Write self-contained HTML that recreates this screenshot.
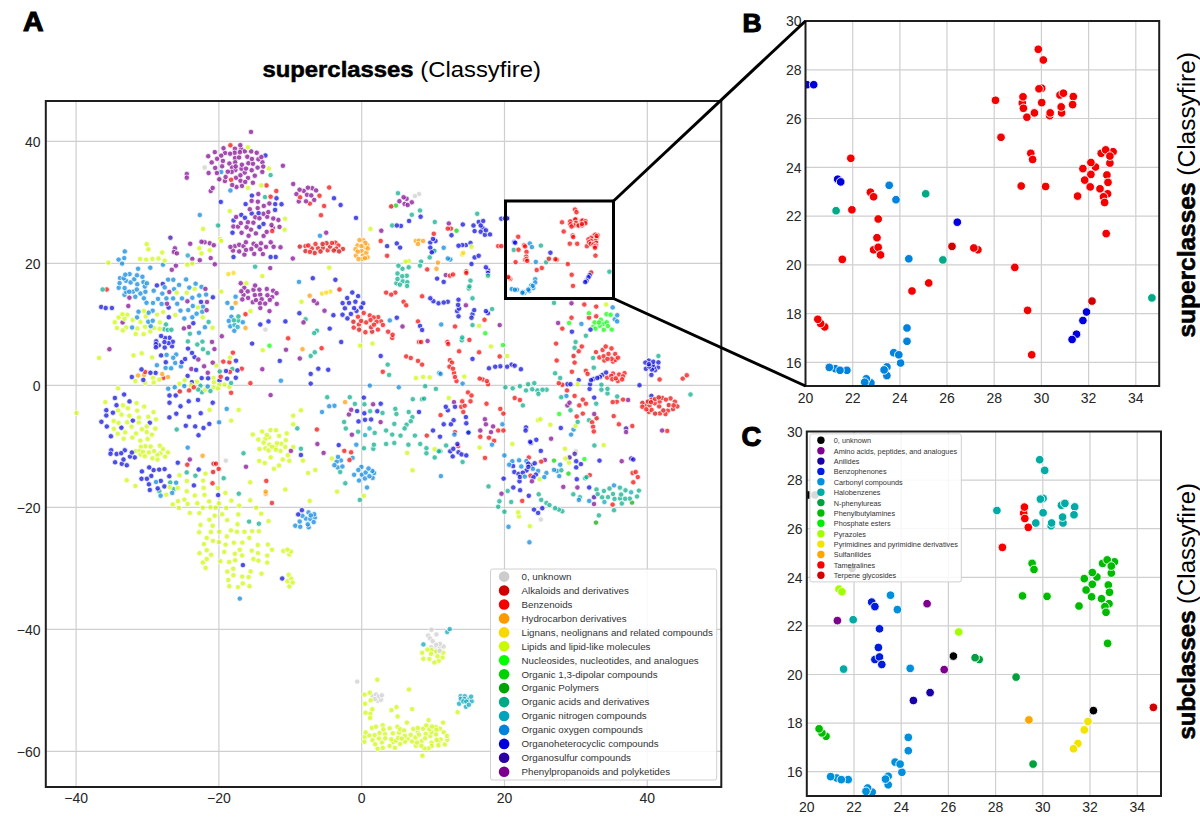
<!DOCTYPE html>
<html><head><meta charset="utf-8"><style>
html,body{margin:0;padding:0;background:#fff;}
body{width:1200px;height:831px;overflow:hidden;}
svg{display:block;font-family:"Liberation Sans",sans-serif;}
</style></head><body>
<svg width="1200" height="831" viewBox="0 0 1200 831">
<rect width="1200" height="831" fill="#fff"/>
<rect x="45.8" y="101" width="675.5" height="686" fill="#fff"/>
<line x1="76.1" y1="101" x2="76.1" y2="787" stroke="#cfcfcf" stroke-width="1.2"/>
<line x1="218.9" y1="101" x2="218.9" y2="787" stroke="#cfcfcf" stroke-width="1.2"/>
<line x1="361.7" y1="101" x2="361.7" y2="787" stroke="#cfcfcf" stroke-width="1.2"/>
<line x1="504.5" y1="101" x2="504.5" y2="787" stroke="#cfcfcf" stroke-width="1.2"/>
<line x1="647.3" y1="101" x2="647.3" y2="787" stroke="#cfcfcf" stroke-width="1.2"/>
<line x1="45.8" y1="141.4" x2="721.3" y2="141.4" stroke="#cfcfcf" stroke-width="1.2"/>
<line x1="45.8" y1="263.4" x2="721.3" y2="263.4" stroke="#cfcfcf" stroke-width="1.2"/>
<line x1="45.8" y1="385.4" x2="721.3" y2="385.4" stroke="#cfcfcf" stroke-width="1.2"/>
<line x1="45.8" y1="507.4" x2="721.3" y2="507.4" stroke="#cfcfcf" stroke-width="1.2"/>
<line x1="45.8" y1="629.4" x2="721.3" y2="629.4" stroke="#cfcfcf" stroke-width="1.2"/>
<line x1="45.8" y1="751.3" x2="721.3" y2="751.3" stroke="#cfcfcf" stroke-width="1.2"/>
<line x1="852.7" y1="21" x2="852.7" y2="386" stroke="#cfcfcf" stroke-width="1.2"/>
<line x1="899.9" y1="21" x2="899.9" y2="386" stroke="#cfcfcf" stroke-width="1.2"/>
<line x1="947" y1="21" x2="947" y2="386" stroke="#cfcfcf" stroke-width="1.2"/>
<line x1="994.2" y1="21" x2="994.2" y2="386" stroke="#cfcfcf" stroke-width="1.2"/>
<line x1="1041.4" y1="21" x2="1041.4" y2="386" stroke="#cfcfcf" stroke-width="1.2"/>
<line x1="1088.6" y1="21" x2="1088.6" y2="386" stroke="#cfcfcf" stroke-width="1.2"/>
<line x1="1135.8" y1="21" x2="1135.8" y2="386" stroke="#cfcfcf" stroke-width="1.2"/>
<line x1="805.5" y1="362.4" x2="1159.2" y2="362.4" stroke="#cfcfcf" stroke-width="1.2"/>
<line x1="805.5" y1="313.6" x2="1159.2" y2="313.6" stroke="#cfcfcf" stroke-width="1.2"/>
<line x1="805.5" y1="264.9" x2="1159.2" y2="264.9" stroke="#cfcfcf" stroke-width="1.2"/>
<line x1="805.5" y1="216.1" x2="1159.2" y2="216.1" stroke="#cfcfcf" stroke-width="1.2"/>
<line x1="805.5" y1="167.3" x2="1159.2" y2="167.3" stroke="#cfcfcf" stroke-width="1.2"/>
<line x1="805.5" y1="118.5" x2="1159.2" y2="118.5" stroke="#cfcfcf" stroke-width="1.2"/>
<line x1="805.5" y1="69.8" x2="1159.2" y2="69.8" stroke="#cfcfcf" stroke-width="1.2"/>
<line x1="854" y1="431.5" x2="854" y2="796" stroke="#cfcfcf" stroke-width="1.2"/>
<line x1="901.2" y1="431.5" x2="901.2" y2="796" stroke="#cfcfcf" stroke-width="1.2"/>
<line x1="948.4" y1="431.5" x2="948.4" y2="796" stroke="#cfcfcf" stroke-width="1.2"/>
<line x1="995.6" y1="431.5" x2="995.6" y2="796" stroke="#cfcfcf" stroke-width="1.2"/>
<line x1="1042.8" y1="431.5" x2="1042.8" y2="796" stroke="#cfcfcf" stroke-width="1.2"/>
<line x1="1090" y1="431.5" x2="1090" y2="796" stroke="#cfcfcf" stroke-width="1.2"/>
<line x1="1137.2" y1="431.5" x2="1137.2" y2="796" stroke="#cfcfcf" stroke-width="1.2"/>
<line x1="806.8" y1="771.7" x2="1161" y2="771.7" stroke="#cfcfcf" stroke-width="1.2"/>
<line x1="806.8" y1="723.1" x2="1161" y2="723.1" stroke="#cfcfcf" stroke-width="1.2"/>
<line x1="806.8" y1="674.5" x2="1161" y2="674.5" stroke="#cfcfcf" stroke-width="1.2"/>
<line x1="806.8" y1="625.9" x2="1161" y2="625.9" stroke="#cfcfcf" stroke-width="1.2"/>
<line x1="806.8" y1="577.3" x2="1161" y2="577.3" stroke="#cfcfcf" stroke-width="1.2"/>
<line x1="806.8" y1="528.7" x2="1161" y2="528.7" stroke="#cfcfcf" stroke-width="1.2"/>
<line x1="806.8" y1="480.1" x2="1161" y2="480.1" stroke="#cfcfcf" stroke-width="1.2"/>
<clipPath id="ca"><rect x="45.8" y="101" width="675.5" height="686"/></clipPath>
<g clip-path="url(#ca)" stroke="#fff" stroke-opacity="0.85" stroke-width="0.9" fill-opacity="0.7">
<circle cx="613" cy="361.6" r="2.7" fill="#f30000"/>
<circle cx="472.5" cy="314.2" r="2.7" fill="#0000dd"/>
<circle cx="526.5" cy="470.4" r="2.7" fill="#0000dd"/>
<circle cx="512.7" cy="388.3" r="2.7" fill="#00aa87"/>
<circle cx="447.4" cy="342" r="2.7" fill="#f30000"/>
<circle cx="454" cy="372.9" r="2.7" fill="#f30000"/>
<circle cx="603.6" cy="323.8" r="2.7" fill="#00ff00"/>
<circle cx="311.8" cy="248.5" r="2.7" fill="#d10000"/>
<circle cx="482.8" cy="379.5" r="2.7" fill="#f30000"/>
<circle cx="101.2" cy="307" r="2.7" fill="#0000dd"/>
<circle cx="471.5" cy="317.7" r="2.7" fill="#0000dd"/>
<circle cx="593.3" cy="326.6" r="2.7" fill="#00ff00"/>
<circle cx="208.6" cy="173" r="2.7" fill="#7c008d"/>
<circle cx="269.4" cy="444.6" r="2.7" fill="#cbf900"/>
<circle cx="411.8" cy="214.8" r="2.7" fill="#00aa87"/>
<circle cx="305.5" cy="246.1" r="2.7" fill="#f30000"/>
<circle cx="612.6" cy="504.6" r="2.7" fill="#f30000"/>
<circle cx="128.3" cy="306" r="2.7" fill="#7c008d"/>
<circle cx="227.2" cy="520.1" r="2.7" fill="#cbf900"/>
<circle cx="269" cy="437.2" r="2.7" fill="#cbf900"/>
<circle cx="468.8" cy="288.5" r="2.7" fill="#00aa87"/>
<circle cx="408.7" cy="261.1" r="2.7" fill="#cbf900"/>
<circle cx="353.7" cy="327.6" r="2.7" fill="#f30000"/>
<circle cx="209.7" cy="243.2" r="2.7" fill="#7c008d"/>
<circle cx="400.1" cy="744" r="2.7" fill="#cbf900"/>
<circle cx="155.6" cy="372.9" r="2.7" fill="#0000dd"/>
<circle cx="372.5" cy="740.2" r="2.7" fill="#cbf900"/>
<circle cx="121.5" cy="414.6" r="2.7" fill="#cbf900"/>
<circle cx="235" cy="158" r="2.7" fill="#7c008d"/>
<circle cx="463.3" cy="412" r="2.7" fill="#f30000"/>
<circle cx="484.9" cy="419.2" r="2.7" fill="#7c008d"/>
<circle cx="289.4" cy="586.5" r="2.7" fill="#cbf900"/>
<circle cx="176.7" cy="429.5" r="2.7" fill="#00aa87"/>
<circle cx="645.3" cy="405.2" r="2.7" fill="#f30000"/>
<circle cx="659.9" cy="413.4" r="2.7" fill="#f30000"/>
<circle cx="439.2" cy="372.9" r="2.7" fill="#0082dd"/>
<circle cx="202.4" cy="341.6" r="2.7" fill="#00aa87"/>
<circle cx="241.2" cy="149.2" r="2.7" fill="#7c008d"/>
<circle cx="562.3" cy="511.3" r="2.7" fill="#00aa87"/>
<circle cx="122.9" cy="405.2" r="2.7" fill="#cbf900"/>
<circle cx="519.5" cy="481.3" r="2.7" fill="#0000dd"/>
<circle cx="106.7" cy="289.5" r="2.7" fill="#f30000"/>
<circle cx="248" cy="177.9" r="2.7" fill="#7c008d"/>
<circle cx="462.6" cy="462" r="2.7" fill="#00aa87"/>
<circle cx="220.4" cy="561.3" r="2.7" fill="#cbf900"/>
<circle cx="158" cy="298.9" r="2.7" fill="#0082dd"/>
<circle cx="371.9" cy="727.9" r="2.7" fill="#cbf900"/>
<circle cx="466.3" cy="423.3" r="2.7" fill="#0000dd"/>
<circle cx="374.6" cy="735.1" r="2.7" fill="#cbf900"/>
<circle cx="322" cy="293.6" r="2.7" fill="#f9d700"/>
<circle cx="270.6" cy="395.1" r="2.7" fill="#7c008d"/>
<circle cx="392.2" cy="225.5" r="2.7" fill="#00aa87"/>
<circle cx="603.7" cy="445.1" r="2.7" fill="#cbf900"/>
<circle cx="448.8" cy="223.5" r="2.7" fill="#7c008d"/>
<circle cx="99.1" cy="358" r="2.7" fill="#cbf900"/>
<circle cx="437.1" cy="278.6" r="2.7" fill="#0000dd"/>
<circle cx="395.9" cy="205.6" r="2.7" fill="#00d100"/>
<circle cx="439.9" cy="728.7" r="2.7" fill="#cbf900"/>
<circle cx="396.8" cy="317.7" r="2.7" fill="#0000dd"/>
<circle cx="537.4" cy="390.4" r="2.7" fill="#00aa87"/>
<circle cx="295.3" cy="525.7" r="2.7" fill="#0082dd"/>
<circle cx="280.9" cy="380.7" r="2.7" fill="#0082dd"/>
<circle cx="406.2" cy="356.4" r="2.7" fill="#f30000"/>
<circle cx="263.6" cy="235.9" r="2.7" fill="#7c008d"/>
<circle cx="123.6" cy="438.7" r="2.7" fill="#cbf900"/>
<circle cx="436.5" cy="268.8" r="2.7" fill="#ff9900"/>
<circle cx="180.9" cy="366.4" r="2.7" fill="#0082dd"/>
<circle cx="528.8" cy="457.5" r="2.7" fill="#f30000"/>
<circle cx="210.7" cy="191" r="2.7" fill="#7c008d"/>
<circle cx="460.6" cy="696.2" r="2.7" fill="#00a4bb"/>
<circle cx="225" cy="153" r="2.7" fill="#7c008d"/>
<circle cx="121.8" cy="463.8" r="2.7" fill="#0000dd"/>
<circle cx="494.1" cy="440.8" r="2.7" fill="#f30000"/>
<circle cx="161.1" cy="355.4" r="2.7" fill="#0000dd"/>
<circle cx="199.4" cy="248.3" r="2.7" fill="#cbf900"/>
<circle cx="370.3" cy="713.6" r="2.7" fill="#cbf900"/>
<circle cx="382.7" cy="725.2" r="2.7" fill="#cbf900"/>
<circle cx="222.9" cy="160.9" r="2.7" fill="#7c008d"/>
<circle cx="234.9" cy="148.7" r="2.7" fill="#7c008d"/>
<circle cx="133.1" cy="291.6" r="2.7" fill="#0082dd"/>
<circle cx="594.4" cy="445.5" r="2.7" fill="#00aa87"/>
<circle cx="165.6" cy="367.9" r="2.7" fill="#0082dd"/>
<circle cx="369.5" cy="428.4" r="2.7" fill="#00a4bb"/>
<circle cx="129.5" cy="401.4" r="2.7" fill="#0000dd"/>
<circle cx="422.1" cy="296.3" r="2.7" fill="#f30000"/>
<circle cx="215.2" cy="167.9" r="2.7" fill="#7c008d"/>
<circle cx="135.4" cy="381" r="2.7" fill="#cbf900"/>
<circle cx="406.6" cy="424.7" r="2.7" fill="#00aa87"/>
<circle cx="247.3" cy="156.8" r="2.7" fill="#7c008d"/>
<circle cx="589" cy="420.2" r="2.7" fill="#00aa87"/>
<circle cx="430.3" cy="242.6" r="2.7" fill="#0000dd"/>
<circle cx="149.8" cy="422.8" r="2.7" fill="#0000dd"/>
<circle cx="251.9" cy="195.6" r="2.7" fill="#0000dd"/>
<circle cx="316.9" cy="303.3" r="2.7" fill="#7c008d"/>
<circle cx="234.7" cy="152.8" r="2.7" fill="#7c008d"/>
<circle cx="592.1" cy="422.3" r="2.7" fill="#f30000"/>
<circle cx="147.6" cy="439" r="2.7" fill="#cbf900"/>
<circle cx="488" cy="270.2" r="2.7" fill="#0000dd"/>
<circle cx="361.9" cy="474.7" r="2.7" fill="#0082dd"/>
<circle cx="242.2" cy="576.6" r="2.7" fill="#cbf900"/>
<circle cx="631.1" cy="492.3" r="2.7" fill="#00a4bb"/>
<circle cx="560.2" cy="464.7" r="2.7" fill="#0082dd"/>
<circle cx="468.4" cy="699.3" r="2.7" fill="#00a4bb"/>
<circle cx="538.7" cy="494.3" r="2.7" fill="#00aa87"/>
<circle cx="358.9" cy="324.5" r="2.7" fill="#f30000"/>
<circle cx="230.9" cy="530.4" r="2.7" fill="#cbf900"/>
<circle cx="326.2" cy="232.7" r="2.7" fill="#7c008d"/>
<circle cx="281.3" cy="443.8" r="2.7" fill="#cbf900"/>
<circle cx="567.4" cy="384.2" r="2.7" fill="#0000dd"/>
<circle cx="327.7" cy="250.2" r="2.7" fill="#f30000"/>
<circle cx="407.6" cy="738.8" r="2.7" fill="#cbf900"/>
<circle cx="433" cy="250.9" r="2.7" fill="#0000dd"/>
<circle cx="559.2" cy="414" r="2.7" fill="#00ff00"/>
<circle cx="265.3" cy="448.4" r="2.7" fill="#cbf900"/>
<circle cx="312.3" cy="188.2" r="2.7" fill="#7c008d"/>
<circle cx="224.5" cy="384.5" r="2.7" fill="#cbf900"/>
<circle cx="530.5" cy="475.7" r="2.7" fill="#f30000"/>
<circle cx="180.5" cy="406.3" r="2.7" fill="#0000dd"/>
<circle cx="272.1" cy="297.1" r="2.7" fill="#7c008d"/>
<circle cx="120" cy="278.1" r="2.7" fill="#0082dd"/>
<circle cx="434.4" cy="647.9" r="2.7" fill="#cccccc"/>
<circle cx="422.4" cy="755.7" r="2.7" fill="#cbf900"/>
<circle cx="546.4" cy="473" r="2.7" fill="#0082dd"/>
<circle cx="212.5" cy="327.7" r="2.7" fill="#cbf900"/>
<circle cx="160.5" cy="453.3" r="2.7" fill="#cbf900"/>
<circle cx="387.1" cy="246.1" r="2.7" fill="#0000dd"/>
<circle cx="442.5" cy="657.4" r="2.7" fill="#cbf900"/>
<circle cx="619.1" cy="374.5" r="2.7" fill="#f30000"/>
<circle cx="402.7" cy="281.2" r="2.7" fill="#00aa87"/>
<circle cx="639.5" cy="385.2" r="2.7" fill="#0000dd"/>
<circle cx="449.9" cy="360.1" r="2.7" fill="#f30000"/>
<circle cx="502.4" cy="424.3" r="2.7" fill="#0082dd"/>
<circle cx="462.2" cy="254.4" r="2.7" fill="#f9d700"/>
<circle cx="118.6" cy="317.5" r="2.7" fill="#cbf900"/>
<circle cx="254.8" cy="175.7" r="2.7" fill="#7c008d"/>
<circle cx="337.7" cy="467.4" r="2.7" fill="#0082dd"/>
<circle cx="233.5" cy="220.4" r="2.7" fill="#0000dd"/>
<circle cx="137" cy="317.4" r="2.7" fill="#0082dd"/>
<circle cx="573.6" cy="429.5" r="2.7" fill="#0082dd"/>
<circle cx="297.3" cy="428.4" r="2.7" fill="#00aa87"/>
<circle cx="478.7" cy="222" r="2.7" fill="#0000dd"/>
<circle cx="394.3" cy="423.9" r="2.7" fill="#00aa87"/>
<circle cx="457.1" cy="311.1" r="2.7" fill="#0000dd"/>
<circle cx="482.8" cy="228.2" r="2.7" fill="#0000dd"/>
<circle cx="624.5" cy="373.2" r="2.7" fill="#f30000"/>
<circle cx="150.6" cy="446.5" r="2.7" fill="#cbf900"/>
<circle cx="219.5" cy="380.8" r="2.7" fill="#0000dd"/>
<circle cx="363.9" cy="495.8" r="2.7" fill="#cbf900"/>
<circle cx="411.8" cy="202.3" r="2.7" fill="#7c008d"/>
<circle cx="200.4" cy="385.7" r="2.7" fill="#00aa87"/>
<circle cx="342.9" cy="249" r="2.7" fill="#d10000"/>
<circle cx="237.9" cy="587.1" r="2.7" fill="#cbf900"/>
<circle cx="603.8" cy="329.8" r="2.7" fill="#00ff00"/>
<circle cx="458.5" cy="299.8" r="2.7" fill="#0000dd"/>
<circle cx="233.4" cy="226.5" r="2.7" fill="#7c008d"/>
<circle cx="417.6" cy="731.4" r="2.7" fill="#cbf900"/>
<circle cx="273.1" cy="290.7" r="2.7" fill="#7c008d"/>
<circle cx="158.8" cy="345.3" r="2.7" fill="#0000dd"/>
<circle cx="648.8" cy="360.6" r="2.7" fill="#0000dd"/>
<circle cx="453.6" cy="420.2" r="2.7" fill="#0000dd"/>
<circle cx="593.1" cy="379" r="2.7" fill="#0000dd"/>
<circle cx="386.1" cy="292.6" r="2.7" fill="#f30000"/>
<circle cx="464.3" cy="376.6" r="2.7" fill="#cbf900"/>
<circle cx="430.3" cy="735.9" r="2.7" fill="#cbf900"/>
<circle cx="466.3" cy="271.4" r="2.7" fill="#f30000"/>
<circle cx="183.9" cy="328.4" r="2.7" fill="#7c008d"/>
<circle cx="258.9" cy="531.2" r="2.7" fill="#cbf900"/>
<circle cx="372.1" cy="331.7" r="2.7" fill="#d10000"/>
<circle cx="265.4" cy="155.5" r="2.7" fill="#0000dd"/>
<circle cx="186.8" cy="491.3" r="2.7" fill="#cbf900"/>
<circle cx="373.1" cy="404.3" r="2.7" fill="#7c008d"/>
<circle cx="436.4" cy="634.4" r="2.7" fill="#cccccc"/>
<circle cx="659.6" cy="379.5" r="2.7" fill="#f30000"/>
<circle cx="153.1" cy="377.8" r="2.7" fill="#cbf900"/>
<circle cx="247.9" cy="222.2" r="2.7" fill="#7c008d"/>
<circle cx="335.4" cy="242.7" r="2.7" fill="#f30000"/>
<circle cx="229.4" cy="163.5" r="2.7" fill="#7c008d"/>
<circle cx="188" cy="348.6" r="2.7" fill="#0000dd"/>
<circle cx="357.2" cy="681.6" r="2.7" fill="#cccccc"/>
<circle cx="358" cy="316.8" r="2.7" fill="#f30000"/>
<circle cx="526" cy="390.4" r="2.7" fill="#00aa87"/>
<circle cx="488" cy="273" r="2.7" fill="#0000dd"/>
<circle cx="569.5" cy="457.5" r="2.7" fill="#2d00a4"/>
<circle cx="414.9" cy="435.6" r="2.7" fill="#00aa87"/>
<circle cx="163" cy="264.7" r="2.7" fill="#0082dd"/>
<circle cx="606.7" cy="322.3" r="2.7" fill="#00ff00"/>
<circle cx="622.9" cy="376.4" r="2.7" fill="#f30000"/>
<circle cx="145.1" cy="382.9" r="2.7" fill="#cbf900"/>
<circle cx="137.3" cy="284.3" r="2.7" fill="#0082dd"/>
<circle cx="126" cy="280.8" r="2.7" fill="#0082dd"/>
<circle cx="422.1" cy="364.6" r="2.7" fill="#f30000"/>
<circle cx="648.8" cy="411.9" r="2.7" fill="#f30000"/>
<circle cx="321" cy="215.2" r="2.7" fill="#f30000"/>
<circle cx="135.7" cy="334" r="2.7" fill="#cbf900"/>
<circle cx="189.3" cy="287.6" r="2.7" fill="#0082dd"/>
<circle cx="195.6" cy="283.7" r="2.7" fill="#0082dd"/>
<circle cx="382.8" cy="371.8" r="2.7" fill="#f30000"/>
<circle cx="175.7" cy="395.5" r="2.7" fill="#0000dd"/>
<circle cx="173.7" cy="489.2" r="2.7" fill="#00aa87"/>
<circle cx="413.3" cy="728.9" r="2.7" fill="#cbf900"/>
<circle cx="258.3" cy="194" r="2.7" fill="#7c008d"/>
<circle cx="189.9" cy="333.8" r="2.7" fill="#00aa87"/>
<circle cx="259.4" cy="449" r="2.7" fill="#cbf900"/>
<circle cx="199" cy="332.8" r="2.7" fill="#0082dd"/>
<circle cx="275.1" cy="209.9" r="2.7" fill="#0000dd"/>
<circle cx="279.5" cy="226.9" r="2.7" fill="#7c008d"/>
<circle cx="514.3" cy="472" r="2.7" fill="#0000dd"/>
<circle cx="149.8" cy="490" r="2.7" fill="#0000dd"/>
<circle cx="471.5" cy="264" r="2.7" fill="#0000dd"/>
<circle cx="440.3" cy="451.3" r="2.7" fill="#00aa87"/>
<circle cx="221.2" cy="291.6" r="2.7" fill="#cbf900"/>
<circle cx="233.4" cy="575.2" r="2.7" fill="#cbf900"/>
<circle cx="491" cy="432.1" r="2.7" fill="#7c008d"/>
<circle cx="175.3" cy="315" r="2.7" fill="#cbf900"/>
<circle cx="251.2" cy="151.4" r="2.7" fill="#7c008d"/>
<circle cx="571.9" cy="371.8" r="2.7" fill="#f30000"/>
<circle cx="232.2" cy="167.5" r="2.7" fill="#7c008d"/>
<circle cx="440.6" cy="739.5" r="2.7" fill="#cbf900"/>
<circle cx="168.1" cy="279.6" r="2.7" fill="#0082dd"/>
<circle cx="677.3" cy="406.4" r="2.7" fill="#f30000"/>
<circle cx="244.8" cy="151.3" r="2.7" fill="#7c008d"/>
<circle cx="365.4" cy="332.2" r="2.7" fill="#f30000"/>
<circle cx="258.3" cy="439.5" r="2.7" fill="#cbf900"/>
<circle cx="145.3" cy="446.2" r="2.7" fill="#cbf900"/>
<circle cx="275.7" cy="446.7" r="2.7" fill="#cbf900"/>
<circle cx="212.7" cy="402.7" r="2.7" fill="#0000dd"/>
<circle cx="314.8" cy="517.6" r="2.7" fill="#0082dd"/>
<circle cx="285.3" cy="489.5" r="2.7" fill="#cbf900"/>
<circle cx="217.1" cy="158.8" r="2.7" fill="#7c008d"/>
<circle cx="465.9" cy="245.1" r="2.7" fill="#0000dd"/>
<circle cx="485.3" cy="333.3" r="2.7" fill="#00ff00"/>
<circle cx="235.4" cy="170" r="2.7" fill="#7c008d"/>
<circle cx="173.3" cy="279.8" r="2.7" fill="#0082dd"/>
<circle cx="314.2" cy="514.2" r="2.7" fill="#0082dd"/>
<circle cx="210.5" cy="507.3" r="2.7" fill="#cbf900"/>
<circle cx="361.1" cy="320.9" r="2.7" fill="#f30000"/>
<circle cx="538" cy="420.2" r="2.7" fill="#cbf900"/>
<circle cx="412.4" cy="417.1" r="2.7" fill="#00aa87"/>
<circle cx="468.8" cy="432.1" r="2.7" fill="#00aa87"/>
<circle cx="447.8" cy="301.8" r="2.7" fill="#0000dd"/>
<circle cx="542.3" cy="508.2" r="2.7" fill="#0000dd"/>
<circle cx="365.5" cy="712.7" r="2.7" fill="#cbf900"/>
<circle cx="372.6" cy="696" r="2.7" fill="#cccccc"/>
<circle cx="262.4" cy="162.3" r="2.7" fill="#7c008d"/>
<circle cx="234.8" cy="553.8" r="2.7" fill="#cbf900"/>
<circle cx="187.8" cy="255.5" r="2.7" fill="#00a4bb"/>
<circle cx="387.7" cy="364.6" r="2.7" fill="#00aa87"/>
<circle cx="519.9" cy="386.2" r="2.7" fill="#00aa87"/>
<circle cx="148.9" cy="452.4" r="2.7" fill="#cbf900"/>
<circle cx="544.9" cy="460" r="2.7" fill="#7c008d"/>
<circle cx="658" cy="367.4" r="2.7" fill="#0000dd"/>
<circle cx="584.3" cy="304.5" r="2.7" fill="#f30000"/>
<circle cx="402.5" cy="268.8" r="2.7" fill="#00aa87"/>
<circle cx="214.4" cy="349.1" r="2.7" fill="#7c008d"/>
<circle cx="282.7" cy="459.5" r="2.7" fill="#cbf900"/>
<circle cx="396.4" cy="283.3" r="2.7" fill="#00aa87"/>
<circle cx="472.5" cy="358.9" r="2.7" fill="#0000dd"/>
<circle cx="371.1" cy="327.3" r="2.7" fill="#d10000"/>
<circle cx="578.7" cy="380.1" r="2.7" fill="#0000dd"/>
<circle cx="474.6" cy="231.1" r="2.7" fill="#0000dd"/>
<circle cx="369.8" cy="315.4" r="2.7" fill="#f30000"/>
<circle cx="184.4" cy="499.6" r="2.7" fill="#cbf900"/>
<circle cx="429.7" cy="377.4" r="2.7" fill="#cbf900"/>
<circle cx="396.8" cy="243.4" r="2.7" fill="#0000dd"/>
<circle cx="339.5" cy="289.5" r="2.7" fill="#f30000"/>
<circle cx="365.7" cy="472.5" r="2.7" fill="#0082dd"/>
<circle cx="420.6" cy="216.7" r="2.7" fill="#0000dd"/>
<circle cx="109.4" cy="349.2" r="2.7" fill="#7c008d"/>
<circle cx="618.9" cy="424.3" r="2.7" fill="#f30000"/>
<circle cx="153.7" cy="382.5" r="2.7" fill="#cbf900"/>
<circle cx="140.9" cy="446.8" r="2.7" fill="#cbf900"/>
<circle cx="394.3" cy="443" r="2.7" fill="#00aa87"/>
<circle cx="141.9" cy="471.4" r="2.7" fill="#0000dd"/>
<circle cx="538.4" cy="393.9" r="2.7" fill="#00aa87"/>
<circle cx="300.9" cy="448.8" r="2.7" fill="#00aa87"/>
<circle cx="187.4" cy="301.3" r="2.7" fill="#7c008d"/>
<circle cx="468" cy="392.4" r="2.7" fill="#f30000"/>
<circle cx="219" cy="542.1" r="2.7" fill="#cbf900"/>
<circle cx="450.3" cy="259.5" r="2.7" fill="#0082dd"/>
<circle cx="479.1" cy="352.3" r="2.7" fill="#f30000"/>
<circle cx="381.9" cy="742.4" r="2.7" fill="#cbf900"/>
<circle cx="434.4" cy="250.9" r="2.7" fill="#00aa87"/>
<circle cx="381" cy="321.4" r="2.7" fill="#f30000"/>
<circle cx="594.6" cy="322.4" r="2.7" fill="#00ff00"/>
<circle cx="340.2" cy="472" r="2.7" fill="#00aa87"/>
<circle cx="251.3" cy="249" r="2.7" fill="#7c008d"/>
<circle cx="426.8" cy="435.6" r="2.7" fill="#f30000"/>
<circle cx="374.1" cy="473" r="2.7" fill="#0082dd"/>
<circle cx="577.7" cy="384.2" r="2.7" fill="#cbf900"/>
<circle cx="322.8" cy="247.7" r="2.7" fill="#d10000"/>
<circle cx="473.5" cy="225.5" r="2.7" fill="#0000dd"/>
<circle cx="377.3" cy="679.7" r="2.7" fill="#cbf900"/>
<circle cx="435.7" cy="727" r="2.7" fill="#cbf900"/>
<circle cx="613" cy="373.5" r="2.7" fill="#f30000"/>
<circle cx="377.3" cy="411.2" r="2.7" fill="#0000dd"/>
<circle cx="374.7" cy="432.9" r="2.7" fill="#00aa87"/>
<circle cx="615.5" cy="359.8" r="2.7" fill="#f30000"/>
<circle cx="225.6" cy="544.6" r="2.7" fill="#cbf900"/>
<circle cx="471.5" cy="395.5" r="2.7" fill="#f30000"/>
<circle cx="140.4" cy="293.5" r="2.7" fill="#0082dd"/>
<circle cx="353.4" cy="321.8" r="2.7" fill="#d10000"/>
<circle cx="456.5" cy="381.1" r="2.7" fill="#f30000"/>
<circle cx="609.5" cy="488.5" r="2.7" fill="#00aa87"/>
<circle cx="615.2" cy="354" r="2.7" fill="#f30000"/>
<circle cx="260.2" cy="294.7" r="2.7" fill="#7c008d"/>
<circle cx="571.5" cy="303.3" r="2.7" fill="#7c008d"/>
<circle cx="448.2" cy="344" r="2.7" fill="#f30000"/>
<circle cx="397.5" cy="273.5" r="2.7" fill="#00aa87"/>
<circle cx="153.7" cy="290.7" r="2.7" fill="#0082dd"/>
<circle cx="309.7" cy="500.9" r="2.7" fill="#cbf900"/>
<circle cx="575.8" cy="451.3" r="2.7" fill="#cccccc"/>
<circle cx="455" cy="326.5" r="2.7" fill="#f30000"/>
<circle cx="266" cy="246.9" r="2.7" fill="#7c008d"/>
<circle cx="285.8" cy="440.2" r="2.7" fill="#cbf900"/>
<circle cx="602.4" cy="374.9" r="2.7" fill="#0000dd"/>
<circle cx="518.5" cy="474" r="2.7" fill="#0000dd"/>
<circle cx="428.1" cy="635.5" r="2.7" fill="#cccccc"/>
<circle cx="344.1" cy="422" r="2.7" fill="#00aa87"/>
<circle cx="243.5" cy="294.9" r="2.7" fill="#7c008d"/>
<circle cx="305.9" cy="518.6" r="2.7" fill="#0082dd"/>
<circle cx="392.2" cy="337.9" r="2.7" fill="#f30000"/>
<circle cx="479.1" cy="325.9" r="2.7" fill="#cbf900"/>
<circle cx="213.7" cy="387.2" r="2.7" fill="#cbf900"/>
<circle cx="480.7" cy="231.7" r="2.7" fill="#0000dd"/>
<circle cx="418" cy="360.9" r="2.7" fill="#f30000"/>
<circle cx="282.2" cy="578.5" r="2.7" fill="#0000dd"/>
<circle cx="361.6" cy="250.9" r="2.7" fill="#ff9900"/>
<circle cx="455" cy="432.1" r="2.7" fill="#f30000"/>
<circle cx="121.4" cy="427.7" r="2.7" fill="#0000dd"/>
<circle cx="438.3" cy="742.2" r="2.7" fill="#cbf900"/>
<circle cx="302.4" cy="515.8" r="2.7" fill="#0082dd"/>
<circle cx="257.7" cy="208.1" r="2.7" fill="#7c008d"/>
<circle cx="232.5" cy="232.7" r="2.7" fill="#0000dd"/>
<circle cx="220.1" cy="238.9" r="2.7" fill="#cbf900"/>
<circle cx="194.5" cy="357.1" r="2.7" fill="#0000dd"/>
<circle cx="393.2" cy="742.1" r="2.7" fill="#cbf900"/>
<circle cx="153.6" cy="470.1" r="2.7" fill="#0000dd"/>
<circle cx="378.2" cy="317.1" r="2.7" fill="#f30000"/>
<circle cx="241.6" cy="232.8" r="2.7" fill="#7c008d"/>
<circle cx="558.1" cy="323" r="2.7" fill="#7c008d"/>
<circle cx="171.1" cy="368.3" r="2.7" fill="#0082dd"/>
<circle cx="316.1" cy="190.4" r="2.7" fill="#7c008d"/>
<circle cx="447.2" cy="632" r="2.7" fill="#00a4bb"/>
<circle cx="135.4" cy="486" r="2.7" fill="#cbf900"/>
<circle cx="391.4" cy="710.2" r="2.7" fill="#cbf900"/>
<circle cx="419" cy="194" r="2.7" fill="#cccccc"/>
<circle cx="191.9" cy="382.1" r="2.7" fill="#0000dd"/>
<circle cx="238" cy="226.7" r="2.7" fill="#7c008d"/>
<circle cx="444.8" cy="744.4" r="2.7" fill="#cbf900"/>
<circle cx="488" cy="313.2" r="2.7" fill="#0000dd"/>
<circle cx="655" cy="370.2" r="2.7" fill="#0000dd"/>
<circle cx="201.7" cy="378.1" r="2.7" fill="#0000dd"/>
<circle cx="334.4" cy="405.8" r="2.7" fill="#0082dd"/>
<circle cx="229.3" cy="586.2" r="2.7" fill="#cbf900"/>
<circle cx="234.8" cy="246.3" r="2.7" fill="#7c008d"/>
<circle cx="415.9" cy="241" r="2.7" fill="#ff9900"/>
<circle cx="596.2" cy="316.3" r="2.7" fill="#f30000"/>
<circle cx="174.1" cy="289.2" r="2.7" fill="#0082dd"/>
<circle cx="382.5" cy="413" r="2.7" fill="#00aa87"/>
<circle cx="637.8" cy="477.1" r="2.7" fill="#f30000"/>
<circle cx="377.6" cy="748.7" r="2.7" fill="#cbf900"/>
<circle cx="203" cy="306.7" r="2.7" fill="#0082dd"/>
<circle cx="105.7" cy="308" r="2.7" fill="#0000dd"/>
<circle cx="531.7" cy="465.4" r="2.7" fill="#0000dd"/>
<circle cx="244.4" cy="254.6" r="2.7" fill="#7c008d"/>
<circle cx="285.3" cy="447" r="2.7" fill="#cbf900"/>
<circle cx="235.6" cy="296.7" r="2.7" fill="#0082dd"/>
<circle cx="227.1" cy="378.6" r="2.7" fill="#0000dd"/>
<circle cx="557.1" cy="470.9" r="2.7" fill="#0082dd"/>
<circle cx="602.1" cy="497.3" r="2.7" fill="#00aa87"/>
<circle cx="124.8" cy="450.3" r="2.7" fill="#0000dd"/>
<circle cx="293.2" cy="424.3" r="2.7" fill="#cbf900"/>
<circle cx="248.6" cy="235.8" r="2.7" fill="#7c008d"/>
<circle cx="145.4" cy="291.8" r="2.7" fill="#0082dd"/>
<circle cx="172" cy="346.3" r="2.7" fill="#0000dd"/>
<circle cx="205.6" cy="567.9" r="2.7" fill="#cbf900"/>
<circle cx="115.1" cy="462.3" r="2.7" fill="#0000dd"/>
<circle cx="242.3" cy="542.6" r="2.7" fill="#cbf900"/>
<circle cx="359.2" cy="329.7" r="2.7" fill="#d10000"/>
<circle cx="190.2" cy="243.8" r="2.7" fill="#7c008d"/>
<circle cx="381.3" cy="230.7" r="2.7" fill="#7c008d"/>
<circle cx="561.3" cy="470.3" r="2.7" fill="#00aa87"/>
<circle cx="642.4" cy="402.9" r="2.7" fill="#d10000"/>
<circle cx="285.4" cy="321.4" r="2.7" fill="#0000dd"/>
<circle cx="192.3" cy="258.9" r="2.7" fill="#7c008d"/>
<circle cx="222.1" cy="514.3" r="2.7" fill="#cbf900"/>
<circle cx="642.3" cy="406.8" r="2.7" fill="#f30000"/>
<circle cx="607.5" cy="393.4" r="2.7" fill="#00aa87"/>
<circle cx="243.5" cy="453.3" r="2.7" fill="#00aa87"/>
<circle cx="429.4" cy="658.9" r="2.7" fill="#cbf900"/>
<circle cx="181.8" cy="362.1" r="2.7" fill="#0000dd"/>
<circle cx="143.9" cy="298.3" r="2.7" fill="#0082dd"/>
<circle cx="599.7" cy="325.8" r="2.7" fill="#00ff00"/>
<circle cx="314.7" cy="253" r="2.7" fill="#d10000"/>
<circle cx="168.2" cy="388.7" r="2.7" fill="#0082dd"/>
<circle cx="317.4" cy="444" r="2.7" fill="#7c008d"/>
<circle cx="172.8" cy="341.7" r="2.7" fill="#0000dd"/>
<circle cx="140.3" cy="440.6" r="2.7" fill="#cbf900"/>
<circle cx="364.6" cy="736.9" r="2.7" fill="#cbf900"/>
<circle cx="116.6" cy="454" r="2.7" fill="#0000dd"/>
<circle cx="134.7" cy="457.4" r="2.7" fill="#0000dd"/>
<circle cx="438.4" cy="745.4" r="2.7" fill="#cbf900"/>
<circle cx="511.6" cy="364.6" r="2.7" fill="#0000dd"/>
<circle cx="168.5" cy="343.1" r="2.7" fill="#0000dd"/>
<circle cx="434" cy="651.5" r="2.7" fill="#cccccc"/>
<circle cx="602.6" cy="350" r="2.7" fill="#f30000"/>
<circle cx="275.2" cy="204.1" r="2.7" fill="#0000dd"/>
<circle cx="289.3" cy="554.5" r="2.7" fill="#cbf900"/>
<circle cx="613.7" cy="416.1" r="2.7" fill="#f30000"/>
<circle cx="462.6" cy="383.6" r="2.7" fill="#0082dd"/>
<circle cx="438.7" cy="660.7" r="2.7" fill="#cbf900"/>
<circle cx="653.8" cy="367.6" r="2.7" fill="#0000dd"/>
<circle cx="412" cy="741.4" r="2.7" fill="#cbf900"/>
<circle cx="310.7" cy="383.6" r="2.7" fill="#0000dd"/>
<circle cx="461.8" cy="340.3" r="2.7" fill="#00aa87"/>
<circle cx="469.4" cy="339.9" r="2.7" fill="#f30000"/>
<circle cx="340.9" cy="460.4" r="2.7" fill="#0082dd"/>
<circle cx="526" cy="427.4" r="2.7" fill="#0000dd"/>
<circle cx="488" cy="384.2" r="2.7" fill="#f30000"/>
<circle cx="239.2" cy="505.6" r="2.7" fill="#cbf900"/>
<circle cx="459.1" cy="308.6" r="2.7" fill="#0000dd"/>
<circle cx="249.1" cy="521.6" r="2.7" fill="#00aa87"/>
<circle cx="376.5" cy="321.8" r="2.7" fill="#f30000"/>
<circle cx="329.7" cy="328.6" r="2.7" fill="#0000dd"/>
<circle cx="117.8" cy="433.8" r="2.7" fill="#cbf900"/>
<circle cx="356.5" cy="310.9" r="2.7" fill="#0000dd"/>
<circle cx="628.1" cy="400" r="2.7" fill="#7c008d"/>
<circle cx="538.1" cy="470.9" r="2.7" fill="#0082dd"/>
<circle cx="272.9" cy="227.9" r="2.7" fill="#7c008d"/>
<circle cx="163.2" cy="312.1" r="2.7" fill="#cbf900"/>
<circle cx="212.9" cy="540.9" r="2.7" fill="#cbf900"/>
<circle cx="604.4" cy="502" r="2.7" fill="#00a4bb"/>
<circle cx="363.3" cy="240.3" r="2.7" fill="#ff9900"/>
<circle cx="415.9" cy="378" r="2.7" fill="#cbf900"/>
<circle cx="349.8" cy="397.2" r="2.7" fill="#00aa87"/>
<circle cx="423.1" cy="728.6" r="2.7" fill="#cbf900"/>
<circle cx="571.1" cy="434.6" r="2.7" fill="#0082dd"/>
<circle cx="606.1" cy="304.5" r="2.7" fill="#cbf900"/>
<circle cx="152.4" cy="258.9" r="2.7" fill="#cbf900"/>
<circle cx="596.6" cy="418.2" r="2.7" fill="#d10000"/>
<circle cx="204.1" cy="366.3" r="2.7" fill="#7c008d"/>
<circle cx="425.2" cy="386.2" r="2.7" fill="#00aa87"/>
<circle cx="221.2" cy="172" r="2.7" fill="#0082dd"/>
<circle cx="440.6" cy="373.9" r="2.7" fill="#0082dd"/>
<circle cx="431.5" cy="742.7" r="2.7" fill="#cbf900"/>
<circle cx="371.1" cy="419.5" r="2.7" fill="#0000dd"/>
<circle cx="255.9" cy="233.4" r="2.7" fill="#7c008d"/>
<circle cx="201.9" cy="392.2" r="2.7" fill="#00aa87"/>
<circle cx="370.1" cy="411.2" r="2.7" fill="#00aa87"/>
<circle cx="659.2" cy="406.4" r="2.7" fill="#f30000"/>
<circle cx="138.1" cy="375.5" r="2.7" fill="#ff9900"/>
<circle cx="498.2" cy="430.5" r="2.7" fill="#f30000"/>
<circle cx="252.8" cy="434.5" r="2.7" fill="#cbf900"/>
<circle cx="365.1" cy="435.1" r="2.7" fill="#00a4bb"/>
<circle cx="281.5" cy="204.2" r="2.7" fill="#0000dd"/>
<circle cx="239.2" cy="251.4" r="2.7" fill="#7c008d"/>
<circle cx="520.1" cy="490.2" r="2.7" fill="#0000dd"/>
<circle cx="231.9" cy="308" r="2.7" fill="#0082dd"/>
<circle cx="443.7" cy="247.8" r="2.7" fill="#0082dd"/>
<circle cx="232.3" cy="369" r="2.7" fill="#00aa87"/>
<circle cx="330.3" cy="291.6" r="2.7" fill="#f9d700"/>
<circle cx="682.7" cy="378.6" r="2.7" fill="#f30000"/>
<circle cx="589.2" cy="487.5" r="2.7" fill="#0000dd"/>
<circle cx="595.5" cy="328.7" r="2.7" fill="#00ff00"/>
<circle cx="430.1" cy="638.4" r="2.7" fill="#cccccc"/>
<circle cx="165.8" cy="362.2" r="2.7" fill="#0000dd"/>
<circle cx="130.6" cy="282.4" r="2.7" fill="#0082dd"/>
<circle cx="485" cy="457.9" r="2.7" fill="#f30000"/>
<circle cx="314.8" cy="352.3" r="2.7" fill="#00aa87"/>
<circle cx="357.5" cy="245.5" r="2.7" fill="#ff9900"/>
<circle cx="485.9" cy="267.3" r="2.7" fill="#0000dd"/>
<circle cx="659.7" cy="401.4" r="2.7" fill="#f30000"/>
<circle cx="179.4" cy="383.7" r="2.7" fill="#cbf900"/>
<circle cx="367.5" cy="257.3" r="2.7" fill="#ff9900"/>
<circle cx="396.5" cy="707.1" r="2.7" fill="#cbf900"/>
<circle cx="451.9" cy="362.6" r="2.7" fill="#f30000"/>
<circle cx="235.2" cy="162.3" r="2.7" fill="#7c008d"/>
<circle cx="233.2" cy="568.7" r="2.7" fill="#cbf900"/>
<circle cx="136" cy="433.5" r="2.7" fill="#cbf900"/>
<circle cx="369.8" cy="385.6" r="2.7" fill="#0082dd"/>
<circle cx="526.4" cy="461" r="2.7" fill="#0082dd"/>
<circle cx="125.2" cy="432.3" r="2.7" fill="#cbf900"/>
<circle cx="363.7" cy="313" r="2.7" fill="#f30000"/>
<circle cx="377.8" cy="700.8" r="2.7" fill="#cccccc"/>
<circle cx="541.2" cy="499.9" r="2.7" fill="#00aa87"/>
<circle cx="198" cy="399.9" r="2.7" fill="#0000dd"/>
<circle cx="273.9" cy="468.8" r="2.7" fill="#cbf900"/>
<circle cx="594" cy="497.2" r="2.7" fill="#2d00a4"/>
<circle cx="253.6" cy="243.8" r="2.7" fill="#7c008d"/>
<circle cx="123.7" cy="278.3" r="2.7" fill="#0082dd"/>
<circle cx="460.8" cy="698.9" r="2.7" fill="#00a4bb"/>
<circle cx="440.9" cy="476.1" r="2.7" fill="#0082dd"/>
<circle cx="257.8" cy="545" r="2.7" fill="#cbf900"/>
<circle cx="205.2" cy="389.7" r="2.7" fill="#cbf900"/>
<circle cx="122.6" cy="322.4" r="2.7" fill="#7c008d"/>
<circle cx="300.2" cy="526.8" r="2.7" fill="#0082dd"/>
<circle cx="160.8" cy="480.9" r="2.7" fill="#0000dd"/>
<circle cx="293.2" cy="415.7" r="2.7" fill="#cbf900"/>
<circle cx="236.5" cy="187" r="2.7" fill="#7c008d"/>
<circle cx="518.9" cy="516.4" r="2.7" fill="#cbf900"/>
<circle cx="559.2" cy="476.1" r="2.7" fill="#0082dd"/>
<circle cx="176.3" cy="413.7" r="2.7" fill="#0000dd"/>
<circle cx="507.1" cy="366.7" r="2.7" fill="#0000dd"/>
<circle cx="439.7" cy="647.7" r="2.7" fill="#cccccc"/>
<circle cx="589.6" cy="388.9" r="2.7" fill="#0000dd"/>
<circle cx="169.5" cy="337.8" r="2.7" fill="#0000dd"/>
<circle cx="256.7" cy="152.8" r="2.7" fill="#7c008d"/>
<circle cx="267.2" cy="216.8" r="2.7" fill="#7c008d"/>
<circle cx="408.4" cy="444.7" r="2.7" fill="#00aa87"/>
<circle cx="359" cy="480.5" r="2.7" fill="#0082dd"/>
<circle cx="210.4" cy="391" r="2.7" fill="#00aa87"/>
<circle cx="248.6" cy="577.1" r="2.7" fill="#cbf900"/>
<circle cx="187.3" cy="464.7" r="2.7" fill="#f30000"/>
<circle cx="345.8" cy="428.5" r="2.7" fill="#00aa87"/>
<circle cx="585.9" cy="335.8" r="2.7" fill="#00aa87"/>
<circle cx="395.3" cy="408.9" r="2.7" fill="#00aa87"/>
<circle cx="593.1" cy="426.8" r="2.7" fill="#f30000"/>
<circle cx="169.5" cy="402.7" r="2.7" fill="#0000dd"/>
<circle cx="550.3" cy="424.7" r="2.7" fill="#cbf900"/>
<circle cx="291" cy="551.5" r="2.7" fill="#cbf900"/>
<circle cx="570.5" cy="410.3" r="2.7" fill="#00aa87"/>
<circle cx="355.4" cy="301.7" r="2.7" fill="#0000dd"/>
<circle cx="191.3" cy="369" r="2.7" fill="#7c008d"/>
<circle cx="358.5" cy="421.4" r="2.7" fill="#0000dd"/>
<circle cx="480.3" cy="430.5" r="2.7" fill="#7c008d"/>
<circle cx="575.6" cy="426" r="2.7" fill="#cbf900"/>
<circle cx="230.1" cy="153.7" r="2.7" fill="#7c008d"/>
<circle cx="132.8" cy="420.6" r="2.7" fill="#0000dd"/>
<circle cx="324.5" cy="310.7" r="2.7" fill="#7c008d"/>
<circle cx="611.5" cy="358.7" r="2.7" fill="#f30000"/>
<circle cx="265.2" cy="303.6" r="2.7" fill="#7c008d"/>
<circle cx="372.3" cy="470.9" r="2.7" fill="#0082dd"/>
<circle cx="131.6" cy="426.7" r="2.7" fill="#cbf900"/>
<circle cx="267.9" cy="544.5" r="2.7" fill="#cbf900"/>
<circle cx="138.8" cy="422.4" r="2.7" fill="#cbf900"/>
<circle cx="150.3" cy="331.5" r="2.7" fill="#cbf900"/>
<circle cx="368.5" cy="468.5" r="2.7" fill="#0082dd"/>
<circle cx="216.9" cy="173" r="2.7" fill="#7c008d"/>
<circle cx="376" cy="726.7" r="2.7" fill="#cbf900"/>
<circle cx="245.6" cy="204.1" r="2.7" fill="#0000dd"/>
<circle cx="434.7" cy="449.2" r="2.7" fill="#cbf900"/>
<circle cx="500.3" cy="366.3" r="2.7" fill="#0000dd"/>
<circle cx="276.5" cy="198.3" r="2.7" fill="#0000dd"/>
<circle cx="251" cy="131.9" r="2.7" fill="#7c008d"/>
<circle cx="565" cy="448.8" r="2.7" fill="#cbf900"/>
<circle cx="176.2" cy="354.5" r="2.7" fill="#0082dd"/>
<circle cx="127.3" cy="314.8" r="2.7" fill="#cbf900"/>
<circle cx="265.2" cy="439" r="2.7" fill="#cbf900"/>
<circle cx="251.7" cy="213.4" r="2.7" fill="#0000dd"/>
<circle cx="279.8" cy="360.9" r="2.7" fill="#0000dd"/>
<circle cx="359.8" cy="499.9" r="2.7" fill="#00aa87"/>
<circle cx="224.3" cy="551.9" r="2.7" fill="#cbf900"/>
<circle cx="328.2" cy="369.8" r="2.7" fill="#0000dd"/>
<circle cx="363.8" cy="397.6" r="2.7" fill="#0000dd"/>
<circle cx="143.4" cy="282.1" r="2.7" fill="#0082dd"/>
<circle cx="338.7" cy="445.1" r="2.7" fill="#0000dd"/>
<circle cx="400.9" cy="225.9" r="2.7" fill="#0000dd"/>
<circle cx="111.2" cy="450.2" r="2.7" fill="#0000dd"/>
<circle cx="562.3" cy="384.8" r="2.7" fill="#f30000"/>
<circle cx="132.1" cy="327.5" r="2.7" fill="#0082dd"/>
<circle cx="446.1" cy="445.5" r="2.7" fill="#00aa87"/>
<circle cx="336.7" cy="461.6" r="2.7" fill="#0082dd"/>
<circle cx="193.9" cy="485.4" r="2.7" fill="#0000dd"/>
<circle cx="430.3" cy="247.6" r="2.7" fill="#0000dd"/>
<circle cx="607.9" cy="326.1" r="2.7" fill="#00ff00"/>
<circle cx="283.3" cy="551" r="2.7" fill="#cbf900"/>
<circle cx="213.1" cy="472" r="2.7" fill="#d10000"/>
<circle cx="235.7" cy="166.4" r="2.7" fill="#7c008d"/>
<circle cx="166.6" cy="354.9" r="2.7" fill="#0082dd"/>
<circle cx="242" cy="185.9" r="2.7" fill="#7c008d"/>
<circle cx="581.8" cy="346.5" r="2.7" fill="#f30000"/>
<circle cx="299" cy="281.9" r="2.7" fill="#0082dd"/>
<circle cx="193.3" cy="323.2" r="2.7" fill="#0000dd"/>
<circle cx="298.8" cy="201.4" r="2.7" fill="#7c008d"/>
<circle cx="464.8" cy="696.2" r="2.7" fill="#00a4bb"/>
<circle cx="199.8" cy="260.2" r="2.7" fill="#7c008d"/>
<circle cx="443.6" cy="646.5" r="2.7" fill="#cccccc"/>
<circle cx="287.4" cy="549.6" r="2.7" fill="#cbf900"/>
<circle cx="217.9" cy="488" r="2.7" fill="#cbf900"/>
<circle cx="309.8" cy="203.6" r="2.7" fill="#f30000"/>
<circle cx="654.7" cy="403.2" r="2.7" fill="#f30000"/>
<circle cx="231.1" cy="392.8" r="2.7" fill="#f30000"/>
<circle cx="279" cy="465.5" r="2.7" fill="#cbf900"/>
<circle cx="242.9" cy="565.1" r="2.7" fill="#0000dd"/>
<circle cx="303.8" cy="190.9" r="2.7" fill="#7c008d"/>
<circle cx="486.9" cy="381.1" r="2.7" fill="#f30000"/>
<circle cx="686.8" cy="375.3" r="2.7" fill="#f30000"/>
<circle cx="621.7" cy="461.2" r="2.7" fill="#7c008d"/>
<circle cx="198.5" cy="435.3" r="2.7" fill="#0000dd"/>
<circle cx="329.2" cy="187.5" r="2.7" fill="#f30000"/>
<circle cx="613" cy="494" r="2.7" fill="#00aa87"/>
<circle cx="137.4" cy="328.4" r="2.7" fill="#cbf900"/>
<circle cx="313.8" cy="300.8" r="2.7" fill="#7c008d"/>
<circle cx="406.6" cy="198.8" r="2.7" fill="#7c008d"/>
<circle cx="106.3" cy="415.5" r="2.7" fill="#0000dd"/>
<circle cx="471.7" cy="701.2" r="2.7" fill="#00a4bb"/>
<circle cx="192.3" cy="263.6" r="2.7" fill="#cbf900"/>
<circle cx="412.1" cy="709.1" r="2.7" fill="#cbf900"/>
<circle cx="252.8" cy="302.2" r="2.7" fill="#7c008d"/>
<circle cx="186.1" cy="279.4" r="2.7" fill="#0082dd"/>
<circle cx="376.1" cy="694.5" r="2.7" fill="#cccccc"/>
<circle cx="184.3" cy="318.5" r="2.7" fill="#0082dd"/>
<circle cx="389.1" cy="374.9" r="2.7" fill="#00aa87"/>
<circle cx="249.5" cy="586.2" r="2.7" fill="#cbf900"/>
<circle cx="212.9" cy="297.3" r="2.7" fill="#0000dd"/>
<circle cx="159.3" cy="491.3" r="2.7" fill="#00aa87"/>
<circle cx="308.5" cy="512.4" r="2.7" fill="#0082dd"/>
<circle cx="454.4" cy="434.6" r="2.7" fill="#0082dd"/>
<circle cx="415.4" cy="737.5" r="2.7" fill="#cbf900"/>
<circle cx="231.4" cy="500.6" r="2.7" fill="#cbf900"/>
<circle cx="215.6" cy="507.7" r="2.7" fill="#cbf900"/>
<circle cx="192.3" cy="297.8" r="2.7" fill="#0082dd"/>
<circle cx="590.1" cy="384.2" r="2.7" fill="#0000dd"/>
<circle cx="164.7" cy="347.5" r="2.7" fill="#0000dd"/>
<circle cx="418" cy="321.4" r="2.7" fill="#f30000"/>
<circle cx="436.4" cy="730.1" r="2.7" fill="#cbf900"/>
<circle cx="373.6" cy="317.5" r="2.7" fill="#f30000"/>
<circle cx="404.8" cy="735.8" r="2.7" fill="#cbf900"/>
<circle cx="417.8" cy="727.9" r="2.7" fill="#cbf900"/>
<circle cx="299.8" cy="246.6" r="2.7" fill="#d10000"/>
<circle cx="239.8" cy="598.6" r="2.7" fill="#0082dd"/>
<circle cx="234.3" cy="330.8" r="2.7" fill="#0082dd"/>
<circle cx="233.5" cy="257" r="2.7" fill="#0000dd"/>
<circle cx="280.4" cy="450.9" r="2.7" fill="#cbf900"/>
<circle cx="293.2" cy="184" r="2.7" fill="#7c008d"/>
<circle cx="195.2" cy="426.4" r="2.7" fill="#0000dd"/>
<circle cx="164.2" cy="329.2" r="2.7" fill="#00aa87"/>
<circle cx="239.2" cy="244.8" r="2.7" fill="#7c008d"/>
<circle cx="546.4" cy="503" r="2.7" fill="#00aa87"/>
<circle cx="247.9" cy="187.9" r="2.7" fill="#cbf900"/>
<circle cx="431.1" cy="647.2" r="2.7" fill="#cccccc"/>
<circle cx="250.4" cy="311.1" r="2.7" fill="#cbf900"/>
<circle cx="164.7" cy="260.6" r="2.7" fill="#cbf900"/>
<circle cx="213.6" cy="463.7" r="2.7" fill="#d10000"/>
<circle cx="539.6" cy="479.2" r="2.7" fill="#cbf900"/>
<circle cx="556.7" cy="360.5" r="2.7" fill="#f30000"/>
<circle cx="433" cy="430.5" r="2.7" fill="#0000dd"/>
<circle cx="632" cy="502.6" r="2.7" fill="#00a400"/>
<circle cx="589" cy="317.7" r="2.7" fill="#f30000"/>
<circle cx="484.9" cy="234.8" r="2.7" fill="#0000dd"/>
<circle cx="585.9" cy="403.7" r="2.7" fill="#f30000"/>
<circle cx="385" cy="733.9" r="2.7" fill="#cbf900"/>
<circle cx="210.9" cy="532" r="2.7" fill="#cbf900"/>
<circle cx="492.1" cy="309.1" r="2.7" fill="#00aa87"/>
<circle cx="423.1" cy="377" r="2.7" fill="#cbf900"/>
<circle cx="137.2" cy="410.6" r="2.7" fill="#cbf900"/>
<circle cx="250.2" cy="500.3" r="2.7" fill="#cbf900"/>
<circle cx="239.8" cy="549.8" r="2.7" fill="#cbf900"/>
<circle cx="179.1" cy="284.9" r="2.7" fill="#0082dd"/>
<circle cx="199.2" cy="295.5" r="2.7" fill="#0082dd"/>
<circle cx="563.3" cy="486.9" r="2.7" fill="#7c008d"/>
<circle cx="406.8" cy="275.8" r="2.7" fill="#00aa87"/>
<circle cx="257.9" cy="201.7" r="2.7" fill="#7c008d"/>
<circle cx="298.2" cy="514.4" r="2.7" fill="#0000dd"/>
<circle cx="454" cy="402.1" r="2.7" fill="#7c008d"/>
<circle cx="258.4" cy="159.3" r="2.7" fill="#7c008d"/>
<circle cx="199.8" cy="215" r="2.7" fill="#0082dd"/>
<circle cx="124.5" cy="318.7" r="2.7" fill="#cbf900"/>
<circle cx="246.3" cy="283.3" r="2.7" fill="#cbf900"/>
<circle cx="216.4" cy="365.6" r="2.7" fill="#cbf900"/>
<circle cx="175.9" cy="265.7" r="2.7" fill="#7c008d"/>
<circle cx="230.3" cy="326.3" r="2.7" fill="#0082dd"/>
<circle cx="373.3" cy="448.8" r="2.7" fill="#00aa87"/>
<circle cx="512.3" cy="461.2" r="2.7" fill="#0082dd"/>
<circle cx="434.8" cy="222" r="2.7" fill="#00aa87"/>
<circle cx="490" cy="234.4" r="2.7" fill="#0000dd"/>
<circle cx="349" cy="302.9" r="2.7" fill="#0000dd"/>
<circle cx="233.5" cy="273" r="2.7" fill="#f9d700"/>
<circle cx="152" cy="357.4" r="2.7" fill="#cbf900"/>
<circle cx="174.9" cy="248.3" r="2.7" fill="#7c008d"/>
<circle cx="422.1" cy="399.2" r="2.7" fill="#00aa87"/>
<circle cx="652.8" cy="365.1" r="2.7" fill="#0000dd"/>
<circle cx="485.9" cy="230.3" r="2.7" fill="#0000dd"/>
<circle cx="338.4" cy="245.5" r="2.7" fill="#f30000"/>
<circle cx="187.6" cy="504" r="2.7" fill="#cbf900"/>
<circle cx="443.7" cy="732.2" r="2.7" fill="#cbf900"/>
<circle cx="424.1" cy="398.6" r="2.7" fill="#00aa87"/>
<circle cx="415.8" cy="745.8" r="2.7" fill="#cbf900"/>
<circle cx="251" cy="229.6" r="2.7" fill="#7c008d"/>
<circle cx="440" cy="436.7" r="2.7" fill="#0000dd"/>
<circle cx="637" cy="496.5" r="2.7" fill="#00aa87"/>
<circle cx="241.8" cy="368.7" r="2.7" fill="#f30000"/>
<circle cx="124.5" cy="294.8" r="2.7" fill="#0082dd"/>
<circle cx="540.4" cy="419.2" r="2.7" fill="#cbf900"/>
<circle cx="447.8" cy="410.3" r="2.7" fill="#0000dd"/>
<circle cx="348.9" cy="414.5" r="2.7" fill="#7c008d"/>
<circle cx="299.7" cy="521.5" r="2.7" fill="#0082dd"/>
<circle cx="558.8" cy="509.6" r="2.7" fill="#00aa87"/>
<circle cx="599.5" cy="460.6" r="2.7" fill="#0000dd"/>
<circle cx="219.3" cy="179.3" r="2.7" fill="#7c008d"/>
<circle cx="625.5" cy="490.3" r="2.7" fill="#00aa87"/>
<circle cx="258.4" cy="560.6" r="2.7" fill="#cbf900"/>
<circle cx="260.3" cy="308" r="2.7" fill="#7c008d"/>
<circle cx="286.7" cy="433.4" r="2.7" fill="#cbf900"/>
<circle cx="177.8" cy="488" r="2.7" fill="#cbf900"/>
<circle cx="449.7" cy="629.1" r="2.7" fill="#00a4bb"/>
<circle cx="455" cy="406.8" r="2.7" fill="#0000dd"/>
<circle cx="324.1" cy="206" r="2.7" fill="#f30000"/>
<circle cx="176.1" cy="482.7" r="2.7" fill="#0082dd"/>
<circle cx="231.7" cy="171.9" r="2.7" fill="#7c008d"/>
<circle cx="381" cy="699.7" r="2.7" fill="#cccccc"/>
<circle cx="361.4" cy="466.9" r="2.7" fill="#0082dd"/>
<circle cx="101.4" cy="421.8" r="2.7" fill="#0000dd"/>
<circle cx="287.4" cy="581.2" r="2.7" fill="#cbf900"/>
<circle cx="560.8" cy="428" r="2.7" fill="#0000dd"/>
<circle cx="366.2" cy="322.4" r="2.7" fill="#f30000"/>
<circle cx="626.1" cy="428.4" r="2.7" fill="#2d00a4"/>
<circle cx="554" cy="302.9" r="2.7" fill="#00aa87"/>
<circle cx="667.2" cy="430.9" r="2.7" fill="#f30000"/>
<circle cx="244.4" cy="531.8" r="2.7" fill="#cbf900"/>
<circle cx="126.1" cy="327.5" r="2.7" fill="#cbf900"/>
<circle cx="187.7" cy="447.6" r="2.7" fill="#0082dd"/>
<circle cx="252.1" cy="343.6" r="2.7" fill="#0000dd"/>
<circle cx="668.8" cy="405.1" r="2.7" fill="#d10000"/>
<circle cx="528.1" cy="384.2" r="2.7" fill="#00aa87"/>
<circle cx="268.5" cy="521.1" r="2.7" fill="#cbf900"/>
<circle cx="263.8" cy="205.9" r="2.7" fill="#7c008d"/>
<circle cx="576.8" cy="479.2" r="2.7" fill="#0000dd"/>
<circle cx="528.3" cy="463.7" r="2.7" fill="#0000dd"/>
<circle cx="518.1" cy="512.3" r="2.7" fill="#cbf900"/>
<circle cx="616.8" cy="401.7" r="2.7" fill="#f30000"/>
<circle cx="373.9" cy="444.7" r="2.7" fill="#00aa87"/>
<circle cx="287.8" cy="455.2" r="2.7" fill="#cbf900"/>
<circle cx="163" cy="449" r="2.7" fill="#cbf900"/>
<circle cx="167.8" cy="329.9" r="2.7" fill="#00aa87"/>
<circle cx="240.8" cy="223.1" r="2.7" fill="#7c008d"/>
<circle cx="169.4" cy="417.4" r="2.7" fill="#0000dd"/>
<circle cx="157" cy="314.6" r="2.7" fill="#cbf900"/>
<circle cx="574.6" cy="362.6" r="2.7" fill="#f30000"/>
<circle cx="218.1" cy="225.5" r="2.7" fill="#00aa87"/>
<circle cx="200.7" cy="413.2" r="2.7" fill="#0000dd"/>
<circle cx="261.4" cy="157" r="2.7" fill="#7c008d"/>
<circle cx="203.1" cy="480.6" r="2.7" fill="#cbf900"/>
<circle cx="142.4" cy="276.8" r="2.7" fill="#0082dd"/>
<circle cx="355.9" cy="255.6" r="2.7" fill="#ff9900"/>
<circle cx="305.5" cy="251.1" r="2.7" fill="#d10000"/>
<circle cx="420" cy="325.9" r="2.7" fill="#0000dd"/>
<circle cx="213.4" cy="378.1" r="2.7" fill="#cbf900"/>
<circle cx="152.4" cy="458.3" r="2.7" fill="#cbf900"/>
<circle cx="144.2" cy="406.6" r="2.7" fill="#cbf900"/>
<circle cx="102.6" cy="289.5" r="2.7" fill="#00aa87"/>
<circle cx="220.7" cy="376.7" r="2.7" fill="#f30000"/>
<circle cx="197.3" cy="344.5" r="2.7" fill="#00aa87"/>
<circle cx="492" cy="444.7" r="2.7" fill="#0082dd"/>
<circle cx="333.4" cy="315.2" r="2.7" fill="#0000dd"/>
<circle cx="498.2" cy="246.1" r="2.7" fill="#f30000"/>
<circle cx="212.7" cy="362.6" r="2.7" fill="#7c008d"/>
<circle cx="364.4" cy="741.8" r="2.7" fill="#cbf900"/>
<circle cx="310.3" cy="518.9" r="2.7" fill="#0082dd"/>
<circle cx="607.1" cy="377.6" r="2.7" fill="#f30000"/>
<circle cx="271.9" cy="503" r="2.7" fill="#f30000"/>
<circle cx="249.3" cy="537.9" r="2.7" fill="#cbf900"/>
<circle cx="203.5" cy="428" r="2.7" fill="#0000dd"/>
<circle cx="419" cy="734.7" r="2.7" fill="#cbf900"/>
<circle cx="394.9" cy="747.8" r="2.7" fill="#cbf900"/>
<circle cx="240.3" cy="145.2" r="2.7" fill="#7c008d"/>
<circle cx="246" cy="466.8" r="2.7" fill="#7c008d"/>
<circle cx="113.7" cy="420.9" r="2.7" fill="#cbf900"/>
<circle cx="435.5" cy="241" r="2.7" fill="#0000dd"/>
<circle cx="580.9" cy="464.1" r="2.7" fill="#0000dd"/>
<circle cx="438.5" cy="303.3" r="2.7" fill="#0000dd"/>
<circle cx="284.6" cy="229.7" r="2.7" fill="#cbf900"/>
<circle cx="269.4" cy="203.5" r="2.7" fill="#7c008d"/>
<circle cx="631.2" cy="458.5" r="2.7" fill="#2d00a4"/>
<circle cx="465.9" cy="706.8" r="2.7" fill="#00a4bb"/>
<circle cx="266.3" cy="480.9" r="2.7" fill="#f30000"/>
<circle cx="370.5" cy="320" r="2.7" fill="#f30000"/>
<circle cx="407.2" cy="452.9" r="2.7" fill="#cbf900"/>
<circle cx="395.3" cy="292.6" r="2.7" fill="#f30000"/>
<circle cx="323.6" cy="452.9" r="2.7" fill="#7c008d"/>
<circle cx="242.1" cy="555.5" r="2.7" fill="#cbf900"/>
<circle cx="224.9" cy="181" r="2.7" fill="#7c008d"/>
<circle cx="422.1" cy="330" r="2.7" fill="#0000dd"/>
<circle cx="546.6" cy="389.7" r="2.7" fill="#00aa87"/>
<circle cx="519.9" cy="400" r="2.7" fill="#f30000"/>
<circle cx="127.9" cy="408.3" r="2.7" fill="#cbf900"/>
<circle cx="599.4" cy="357.4" r="2.7" fill="#f30000"/>
<circle cx="544.3" cy="477.1" r="2.7" fill="#0082dd"/>
<circle cx="270.6" cy="175.1" r="2.7" fill="#00aa87"/>
<circle cx="367" cy="487.5" r="2.7" fill="#0082dd"/>
<circle cx="208.2" cy="156.2" r="2.7" fill="#7c008d"/>
<circle cx="458.5" cy="452.3" r="2.7" fill="#0000dd"/>
<circle cx="126.1" cy="291.8" r="2.7" fill="#0082dd"/>
<circle cx="247.9" cy="147.3" r="2.7" fill="#cbf900"/>
<circle cx="239.1" cy="157.4" r="2.7" fill="#7c008d"/>
<circle cx="599.9" cy="377" r="2.7" fill="#0000dd"/>
<circle cx="159.8" cy="445.7" r="2.7" fill="#cbf900"/>
<circle cx="111.9" cy="308" r="2.7" fill="#0000dd"/>
<circle cx="265" cy="197.1" r="2.7" fill="#00aa87"/>
<circle cx="123.5" cy="459.5" r="2.7" fill="#0000dd"/>
<circle cx="271.5" cy="225" r="2.7" fill="#7c008d"/>
<circle cx="385.2" cy="738.3" r="2.7" fill="#cbf900"/>
<circle cx="606.1" cy="372.5" r="2.7" fill="#0000dd"/>
<circle cx="255.1" cy="266.7" r="2.7" fill="#00aa87"/>
<circle cx="461.6" cy="454.4" r="2.7" fill="#0000dd"/>
<circle cx="483.2" cy="221" r="2.7" fill="#0000dd"/>
<circle cx="275.7" cy="257" r="2.7" fill="#0000dd"/>
<circle cx="161.6" cy="303.9" r="2.7" fill="#0082dd"/>
<circle cx="198.3" cy="359.5" r="2.7" fill="#7c008d"/>
<circle cx="335.4" cy="279.8" r="2.7" fill="#0000dd"/>
<circle cx="574.6" cy="395.9" r="2.7" fill="#f30000"/>
<circle cx="235.6" cy="302.9" r="2.7" fill="#ff9900"/>
<circle cx="568.5" cy="473.6" r="2.7" fill="#00d100"/>
<circle cx="146.7" cy="244.2" r="2.7" fill="#cbf900"/>
<circle cx="596.5" cy="489.5" r="2.7" fill="#00aa87"/>
<circle cx="566.4" cy="395.9" r="2.7" fill="#0082dd"/>
<circle cx="520.9" cy="369.2" r="2.7" fill="#0000dd"/>
<circle cx="651.4" cy="374.9" r="2.7" fill="#0000dd"/>
<circle cx="651.4" cy="395.9" r="2.7" fill="#0000dd"/>
<circle cx="439.9" cy="643.8" r="2.7" fill="#cccccc"/>
<circle cx="436.1" cy="644.7" r="2.7" fill="#cccccc"/>
<circle cx="251.7" cy="170.2" r="2.7" fill="#7c008d"/>
<circle cx="391.2" cy="206.4" r="2.7" fill="#d10000"/>
<circle cx="262.3" cy="369.2" r="2.7" fill="#7c008d"/>
<circle cx="262.3" cy="276.1" r="2.7" fill="#cbf900"/>
<circle cx="578.7" cy="351.3" r="2.7" fill="#f30000"/>
<circle cx="440.6" cy="415.1" r="2.7" fill="#f30000"/>
<circle cx="607.5" cy="388.9" r="2.7" fill="#00aa87"/>
<circle cx="480.7" cy="225.5" r="2.7" fill="#0000dd"/>
<circle cx="459.1" cy="703.8" r="2.7" fill="#00a4bb"/>
<circle cx="263.4" cy="213.8" r="2.7" fill="#7c008d"/>
<circle cx="238.7" cy="409.9" r="2.7" fill="#cbf900"/>
<circle cx="593.1" cy="358" r="2.7" fill="#00aa87"/>
<circle cx="218.1" cy="495.1" r="2.7" fill="#0000dd"/>
<circle cx="387.1" cy="255.8" r="2.7" fill="#f30000"/>
<circle cx="318" cy="248.2" r="2.7" fill="#f30000"/>
<circle cx="114.8" cy="322.2" r="2.7" fill="#cbf900"/>
<circle cx="434.7" cy="457.5" r="2.7" fill="#00aa87"/>
<circle cx="420.2" cy="444" r="2.7" fill="#00aa87"/>
<circle cx="499.7" cy="356.4" r="2.7" fill="#f30000"/>
<circle cx="629.8" cy="498.6" r="2.7" fill="#00aa87"/>
<circle cx="472.5" cy="298.3" r="2.7" fill="#00aa87"/>
<circle cx="134.2" cy="279.2" r="2.7" fill="#0082dd"/>
<circle cx="474.6" cy="257.4" r="2.7" fill="#0000dd"/>
<circle cx="253.5" cy="289.7" r="2.7" fill="#7c008d"/>
<circle cx="194.7" cy="288.9" r="2.7" fill="#cbf900"/>
<circle cx="308.7" cy="527.3" r="2.7" fill="#0082dd"/>
<circle cx="504.4" cy="455.4" r="2.7" fill="#0082dd"/>
<circle cx="662.2" cy="397.9" r="2.7" fill="#d10000"/>
<circle cx="433.4" cy="301.2" r="2.7" fill="#0000dd"/>
<circle cx="195.4" cy="475.7" r="2.7" fill="#00aa87"/>
<circle cx="398.8" cy="387.3" r="2.7" fill="#0082dd"/>
<circle cx="513.3" cy="487.5" r="2.7" fill="#0000dd"/>
<circle cx="172.2" cy="492.9" r="2.7" fill="#0082dd"/>
<circle cx="187.9" cy="341.4" r="2.7" fill="#00aa87"/>
<circle cx="427.2" cy="269.4" r="2.7" fill="#f30000"/>
<circle cx="611.5" cy="348.4" r="2.7" fill="#f30000"/>
<circle cx="391.3" cy="739.2" r="2.7" fill="#cbf900"/>
<circle cx="649.5" cy="405.4" r="2.7" fill="#f30000"/>
<circle cx="251.6" cy="200.9" r="2.7" fill="#7c008d"/>
<circle cx="351.9" cy="434.7" r="2.7" fill="#7c008d"/>
<circle cx="266.8" cy="434.9" r="2.7" fill="#cbf900"/>
<circle cx="310.7" cy="356" r="2.7" fill="#00aa87"/>
<circle cx="529.4" cy="542.3" r="2.7" fill="#0082dd"/>
<circle cx="364.9" cy="478.5" r="2.7" fill="#0082dd"/>
<circle cx="405" cy="741.7" r="2.7" fill="#cbf900"/>
<circle cx="222.1" cy="166.3" r="2.7" fill="#7c008d"/>
<circle cx="511.2" cy="502" r="2.7" fill="#00aa87"/>
<circle cx="489" cy="368.3" r="2.7" fill="#0000dd"/>
<circle cx="244.7" cy="172.6" r="2.7" fill="#7c008d"/>
<circle cx="420" cy="210.5" r="2.7" fill="#00aa87"/>
<circle cx="177.8" cy="462.7" r="2.7" fill="#0000dd"/>
<circle cx="129.3" cy="291.8" r="2.7" fill="#0082dd"/>
<circle cx="262.8" cy="350.2" r="2.7" fill="#cbf900"/>
<circle cx="201" cy="301.9" r="2.7" fill="#0000dd"/>
<circle cx="153" cy="303" r="2.7" fill="#0082dd"/>
<circle cx="144.1" cy="375" r="2.7" fill="#ff9900"/>
<circle cx="499.7" cy="325.1" r="2.7" fill="#7c008d"/>
<circle cx="208.1" cy="378.3" r="2.7" fill="#0000dd"/>
<circle cx="569.1" cy="462.7" r="2.7" fill="#cbf900"/>
<circle cx="461.2" cy="406.8" r="2.7" fill="#f30000"/>
<circle cx="201.5" cy="286.9" r="2.7" fill="#0082dd"/>
<circle cx="238.3" cy="320.6" r="2.7" fill="#00aa87"/>
<circle cx="452.7" cy="456.4" r="2.7" fill="#0000dd"/>
<circle cx="118.1" cy="410.4" r="2.7" fill="#cbf900"/>
<circle cx="507.1" cy="356" r="2.7" fill="#cbf900"/>
<circle cx="229.4" cy="387" r="2.7" fill="#cbf900"/>
<circle cx="398" cy="193.2" r="2.7" fill="#00aa87"/>
<circle cx="166" cy="324.4" r="2.7" fill="#00aa87"/>
<circle cx="187.2" cy="264.7" r="2.7" fill="#cbf900"/>
<circle cx="214.7" cy="515.7" r="2.7" fill="#cbf900"/>
<circle cx="293.3" cy="447" r="2.7" fill="#cbf900"/>
<circle cx="397.4" cy="726.8" r="2.7" fill="#cbf900"/>
<circle cx="480.3" cy="436.7" r="2.7" fill="#f30000"/>
<circle cx="567" cy="390.4" r="2.7" fill="#f30000"/>
<circle cx="402.2" cy="276.2" r="2.7" fill="#00aa87"/>
<circle cx="320.5" cy="251.4" r="2.7" fill="#d10000"/>
<circle cx="574.6" cy="347.8" r="2.7" fill="#00aa87"/>
<circle cx="313.7" cy="522.1" r="2.7" fill="#0082dd"/>
<circle cx="431.5" cy="650.1" r="2.7" fill="#cbf900"/>
<circle cx="146.2" cy="259.6" r="2.7" fill="#cbf900"/>
<circle cx="579.3" cy="405.4" r="2.7" fill="#f30000"/>
<circle cx="570.5" cy="384.2" r="2.7" fill="#0000dd"/>
<circle cx="555.1" cy="508.2" r="2.7" fill="#00aa87"/>
<circle cx="285" cy="218.7" r="2.7" fill="#cbf900"/>
<circle cx="209.1" cy="501.4" r="2.7" fill="#cbf900"/>
<circle cx="204.9" cy="327.2" r="2.7" fill="#0082dd"/>
<circle cx="136.5" cy="403.1" r="2.7" fill="#cbf900"/>
<circle cx="245.5" cy="314.2" r="2.7" fill="#f30000"/>
<circle cx="198.2" cy="389.6" r="2.7" fill="#00aa87"/>
<circle cx="380.6" cy="422.1" r="2.7" fill="#7c008d"/>
<circle cx="407.3" cy="282.2" r="2.7" fill="#00aa87"/>
<circle cx="457.6" cy="712.2" r="2.7" fill="#cbf900"/>
<circle cx="141.5" cy="478.8" r="2.7" fill="#0000dd"/>
<circle cx="185.8" cy="425.8" r="2.7" fill="#0000dd"/>
<circle cx="140.1" cy="258.9" r="2.7" fill="#cbf900"/>
<circle cx="625.1" cy="498.8" r="2.7" fill="#00aa87"/>
<circle cx="291.2" cy="578.6" r="2.7" fill="#cbf900"/>
<circle cx="256.2" cy="507.8" r="2.7" fill="#cbf900"/>
<circle cx="253.4" cy="559" r="2.7" fill="#cbf900"/>
<circle cx="445.8" cy="275.1" r="2.7" fill="#7c008d"/>
<circle cx="202.8" cy="507.8" r="2.7" fill="#cbf900"/>
<circle cx="156.2" cy="341.3" r="2.7" fill="#0000dd"/>
<circle cx="651.4" cy="399.8" r="2.7" fill="#f30000"/>
<circle cx="108.4" cy="262.6" r="2.7" fill="#cbf900"/>
<circle cx="569.1" cy="323" r="2.7" fill="#00ff00"/>
<circle cx="76.5" cy="413" r="2.7" fill="#cbf900"/>
<circle cx="249.8" cy="209.2" r="2.7" fill="#7c008d"/>
<circle cx="534" cy="509.6" r="2.7" fill="#0000dd"/>
<circle cx="540.8" cy="450.9" r="2.7" fill="#0000dd"/>
<circle cx="177.2" cy="303.8" r="2.7" fill="#0082dd"/>
<circle cx="309.7" cy="295.7" r="2.7" fill="#ff9900"/>
<circle cx="241.3" cy="214.9" r="2.7" fill="#0000dd"/>
<circle cx="141.9" cy="429.3" r="2.7" fill="#cbf900"/>
<circle cx="464.4" cy="699.1" r="2.7" fill="#00a4bb"/>
<circle cx="397.6" cy="716.4" r="2.7" fill="#cbf900"/>
<circle cx="396.8" cy="225.5" r="2.7" fill="#0000dd"/>
<circle cx="462.2" cy="337.5" r="2.7" fill="#00aa87"/>
<circle cx="670.5" cy="398.4" r="2.7" fill="#f30000"/>
<circle cx="623" cy="399.6" r="2.7" fill="#f30000"/>
<circle cx="632.6" cy="473" r="2.7" fill="#f30000"/>
<circle cx="244.9" cy="217.8" r="2.7" fill="#0000dd"/>
<circle cx="229.9" cy="372" r="2.7" fill="#f30000"/>
<circle cx="309.9" cy="251.9" r="2.7" fill="#f30000"/>
<circle cx="138.1" cy="268.8" r="2.7" fill="#0082dd"/>
<circle cx="105.3" cy="402.1" r="2.7" fill="#cbf900"/>
<circle cx="232.9" cy="352.7" r="2.7" fill="#f30000"/>
<circle cx="146.8" cy="426.4" r="2.7" fill="#cbf900"/>
<circle cx="112.9" cy="412.7" r="2.7" fill="#0000dd"/>
<circle cx="151.3" cy="475.9" r="2.7" fill="#0000dd"/>
<circle cx="288.1" cy="338.3" r="2.7" fill="#f30000"/>
<circle cx="370.1" cy="717.9" r="2.7" fill="#cbf900"/>
<circle cx="242.3" cy="299.4" r="2.7" fill="#7c008d"/>
<circle cx="202.6" cy="455.8" r="2.7" fill="#ff9900"/>
<circle cx="199.5" cy="553.2" r="2.7" fill="#cbf900"/>
<circle cx="513.1" cy="466.1" r="2.7" fill="#0000dd"/>
<circle cx="419" cy="342" r="2.7" fill="#f30000"/>
<circle cx="213.8" cy="245.2" r="2.7" fill="#7c008d"/>
<circle cx="258" cy="553.1" r="2.7" fill="#cbf900"/>
<circle cx="594.2" cy="414" r="2.7" fill="#7c008d"/>
<circle cx="136.8" cy="289.5" r="2.7" fill="#0082dd"/>
<circle cx="206.7" cy="537.9" r="2.7" fill="#cbf900"/>
<circle cx="225.6" cy="177" r="2.7" fill="#7c008d"/>
<circle cx="231.1" cy="420.6" r="2.7" fill="#cbf900"/>
<circle cx="200.5" cy="525" r="2.7" fill="#cbf900"/>
<circle cx="421.1" cy="342" r="2.7" fill="#f30000"/>
<circle cx="221.8" cy="336.2" r="2.7" fill="#7c008d"/>
<circle cx="268.6" cy="450.4" r="2.7" fill="#cbf900"/>
<circle cx="231.4" cy="316.8" r="2.7" fill="#0082dd"/>
<circle cx="431.7" cy="745.9" r="2.7" fill="#cbf900"/>
<circle cx="448.8" cy="398" r="2.7" fill="#cbf900"/>
<circle cx="189.8" cy="512.9" r="2.7" fill="#cbf900"/>
<circle cx="536.3" cy="439.8" r="2.7" fill="#0000dd"/>
<circle cx="378.9" cy="696.4" r="2.7" fill="#cccccc"/>
<circle cx="647.9" cy="401.6" r="2.7" fill="#d10000"/>
<circle cx="320" cy="235.8" r="2.7" fill="#0082dd"/>
<circle cx="334" cy="198.2" r="2.7" fill="#0000dd"/>
<circle cx="187.6" cy="375.9" r="2.7" fill="#0000dd"/>
<circle cx="337.1" cy="491.6" r="2.7" fill="#cbf900"/>
<circle cx="322" cy="412" r="2.7" fill="#0082dd"/>
<circle cx="422.1" cy="652.8" r="2.7" fill="#cbf900"/>
<circle cx="619.9" cy="487.7" r="2.7" fill="#00aa87"/>
<circle cx="617.8" cy="381" r="2.7" fill="#f30000"/>
<circle cx="596.2" cy="306.6" r="2.7" fill="#f30000"/>
<circle cx="590.5" cy="329.6" r="2.7" fill="#0000dd"/>
<circle cx="614.8" cy="319.3" r="2.7" fill="#0082dd"/>
<circle cx="426.4" cy="448.2" r="2.7" fill="#00aa87"/>
<circle cx="620" cy="498.4" r="2.7" fill="#00aa87"/>
<circle cx="356" cy="217.9" r="2.7" fill="#0000dd"/>
<circle cx="266.7" cy="231.9" r="2.7" fill="#7c008d"/>
<circle cx="635.7" cy="472" r="2.7" fill="#f30000"/>
<circle cx="522.9" cy="405.4" r="2.7" fill="#00aa87"/>
<circle cx="347.2" cy="298" r="2.7" fill="#0000dd"/>
<circle cx="262.1" cy="431.5" r="2.7" fill="#cbf900"/>
<circle cx="220.8" cy="201.9" r="2.7" fill="#0000dd"/>
<circle cx="201.5" cy="253.4" r="2.7" fill="#cbf900"/>
<circle cx="258.9" cy="523.7" r="2.7" fill="#00aa87"/>
<circle cx="606.5" cy="314.2" r="2.7" fill="#00ff00"/>
<circle cx="162.8" cy="283.9" r="2.7" fill="#0000dd"/>
<circle cx="561.2" cy="397.2" r="2.7" fill="#00aa87"/>
<circle cx="228.8" cy="320.9" r="2.7" fill="#0082dd"/>
<circle cx="617.2" cy="396.5" r="2.7" fill="#00aa87"/>
<circle cx="369.3" cy="735.5" r="2.7" fill="#cbf900"/>
<circle cx="184.3" cy="386" r="2.7" fill="#0082dd"/>
<circle cx="462.2" cy="245.1" r="2.7" fill="#0000dd"/>
<circle cx="118.7" cy="287.8" r="2.7" fill="#0082dd"/>
<circle cx="237.5" cy="524.2" r="2.7" fill="#cbf900"/>
<circle cx="135.9" cy="451" r="2.7" fill="#cbf900"/>
<circle cx="221.2" cy="155.6" r="2.7" fill="#7c008d"/>
<circle cx="226.8" cy="536.5" r="2.7" fill="#cbf900"/>
<circle cx="653.3" cy="361.7" r="2.7" fill="#0000dd"/>
<circle cx="560.2" cy="378" r="2.7" fill="#00aa87"/>
<circle cx="479.6" cy="447.6" r="2.7" fill="#cbf900"/>
<circle cx="463.3" cy="252.9" r="2.7" fill="#f9d700"/>
<circle cx="237.4" cy="370.4" r="2.7" fill="#0000dd"/>
<circle cx="244.3" cy="287.9" r="2.7" fill="#7c008d"/>
<circle cx="166.2" cy="494.7" r="2.7" fill="#cbf900"/>
<circle cx="541.2" cy="461.6" r="2.7" fill="#f30000"/>
<circle cx="144.8" cy="286.5" r="2.7" fill="#0082dd"/>
<circle cx="110.9" cy="436.3" r="2.7" fill="#0000dd"/>
<circle cx="178" cy="501.1" r="2.7" fill="#cbf900"/>
<circle cx="434.3" cy="662.5" r="2.7" fill="#cbf900"/>
<circle cx="292.7" cy="582.6" r="2.7" fill="#cbf900"/>
<circle cx="203" cy="349.2" r="2.7" fill="#00aa87"/>
<circle cx="259.2" cy="460.9" r="2.7" fill="#cbf900"/>
<circle cx="280.5" cy="247.3" r="2.7" fill="#7c008d"/>
<circle cx="189.8" cy="459.5" r="2.7" fill="#7c008d"/>
<circle cx="243.5" cy="246.2" r="2.7" fill="#7c008d"/>
<circle cx="389.7" cy="728.3" r="2.7" fill="#cbf900"/>
<circle cx="129.4" cy="297.7" r="2.7" fill="#7c008d"/>
<circle cx="372.3" cy="709.2" r="2.7" fill="#cbf900"/>
<circle cx="169.3" cy="292" r="2.7" fill="#7c008d"/>
<circle cx="173.9" cy="252" r="2.7" fill="#7c008d"/>
<circle cx="139.5" cy="451" r="2.7" fill="#cbf900"/>
<circle cx="618" cy="357.7" r="2.7" fill="#f30000"/>
<circle cx="495.2" cy="366.7" r="2.7" fill="#0000dd"/>
<circle cx="173.2" cy="357.8" r="2.7" fill="#0082dd"/>
<circle cx="176.7" cy="292.7" r="2.7" fill="#cbf900"/>
<circle cx="551.1" cy="438.7" r="2.7" fill="#7c008d"/>
<circle cx="259.3" cy="227" r="2.7" fill="#0000dd"/>
<circle cx="122.8" cy="330.4" r="2.7" fill="#cbf900"/>
<circle cx="419" cy="240.6" r="2.7" fill="#ff9900"/>
<circle cx="312.8" cy="278.2" r="2.7" fill="#0000dd"/>
<circle cx="605.7" cy="346.5" r="2.7" fill="#f30000"/>
<circle cx="449.9" cy="275.7" r="2.7" fill="#f30000"/>
<circle cx="392.2" cy="434.6" r="2.7" fill="#00aa87"/>
<circle cx="240.5" cy="180.7" r="2.7" fill="#7c008d"/>
<circle cx="614.5" cy="498.9" r="2.7" fill="#00aa87"/>
<circle cx="667.9" cy="410.7" r="2.7" fill="#f30000"/>
<circle cx="214.8" cy="152.1" r="2.7" fill="#7c008d"/>
<circle cx="633.3" cy="482.3" r="2.7" fill="#f30000"/>
<circle cx="157.4" cy="455" r="2.7" fill="#cbf900"/>
<circle cx="409.1" cy="221" r="2.7" fill="#0000dd"/>
<circle cx="529.8" cy="526.2" r="2.7" fill="#cbf900"/>
<circle cx="192" cy="352.9" r="2.7" fill="#0000dd"/>
<circle cx="126.8" cy="465.3" r="2.7" fill="#0000dd"/>
<circle cx="574.7" cy="453.8" r="2.7" fill="#2d00a4"/>
<circle cx="459.1" cy="351.3" r="2.7" fill="#f30000"/>
<circle cx="498.2" cy="506.7" r="2.7" fill="#00aa87"/>
<circle cx="197.3" cy="503.2" r="2.7" fill="#cbf900"/>
<circle cx="238.8" cy="493.7" r="2.7" fill="#00aa87"/>
<circle cx="155.9" cy="344.2" r="2.7" fill="#0000dd"/>
<circle cx="600.8" cy="319.7" r="2.7" fill="#00ff00"/>
<circle cx="152.6" cy="310.7" r="2.7" fill="#0082dd"/>
<circle cx="365.6" cy="732.4" r="2.7" fill="#cbf900"/>
<circle cx="380.7" cy="241" r="2.7" fill="#f30000"/>
<circle cx="140.6" cy="454.6" r="2.7" fill="#cbf900"/>
<circle cx="528.8" cy="495.8" r="2.7" fill="#0000dd"/>
<circle cx="604.4" cy="360.5" r="2.7" fill="#f30000"/>
<circle cx="212.7" cy="187.9" r="2.7" fill="#7c008d"/>
<circle cx="165.1" cy="456.6" r="2.7" fill="#cbf900"/>
<circle cx="315.5" cy="244" r="2.7" fill="#f30000"/>
<circle cx="614" cy="510.2" r="2.7" fill="#00aa87"/>
<circle cx="236" cy="177.8" r="2.7" fill="#7c008d"/>
<circle cx="268.5" cy="321.4" r="2.7" fill="#0000dd"/>
<circle cx="300.9" cy="455" r="2.7" fill="#0000dd"/>
<circle cx="160.6" cy="495.7" r="2.7" fill="#0082dd"/>
<circle cx="336.2" cy="248.6" r="2.7" fill="#f30000"/>
<circle cx="308.1" cy="473" r="2.7" fill="#cbf900"/>
<circle cx="227.8" cy="171.7" r="2.7" fill="#7c008d"/>
<circle cx="383.4" cy="729.4" r="2.7" fill="#cbf900"/>
<circle cx="443.7" cy="302.5" r="2.7" fill="#0000dd"/>
<circle cx="308.3" cy="245.5" r="2.7" fill="#f30000"/>
<circle cx="512.3" cy="444" r="2.7" fill="#cbf900"/>
<circle cx="363" cy="255.5" r="2.7" fill="#ff9900"/>
<circle cx="462.8" cy="224.5" r="2.7" fill="#0000dd"/>
<circle cx="140.5" cy="322" r="2.7" fill="#cbf900"/>
<circle cx="576.7" cy="416.5" r="2.7" fill="#f30000"/>
<circle cx="428.4" cy="748.4" r="2.7" fill="#cbf900"/>
<circle cx="443.2" cy="652.7" r="2.7" fill="#cbf900"/>
<circle cx="555.1" cy="373.3" r="2.7" fill="#00aa87"/>
<circle cx="464.7" cy="405.8" r="2.7" fill="#f30000"/>
<circle cx="379" cy="738.5" r="2.7" fill="#cbf900"/>
<circle cx="597.7" cy="494.1" r="2.7" fill="#00aa87"/>
<circle cx="159.6" cy="328.8" r="2.7" fill="#cbf900"/>
<circle cx="645.9" cy="368.8" r="2.7" fill="#0000dd"/>
<circle cx="507.1" cy="218.3" r="2.7" fill="#0000dd"/>
<circle cx="449.5" cy="366.7" r="2.7" fill="#f30000"/>
<circle cx="315.3" cy="469.9" r="2.7" fill="#cbf900"/>
<circle cx="235.2" cy="560.3" r="2.7" fill="#cbf900"/>
<circle cx="282.9" cy="165.8" r="2.7" fill="#7c008d"/>
<circle cx="404.6" cy="203.9" r="2.7" fill="#7c008d"/>
<circle cx="392.6" cy="334.8" r="2.7" fill="#f30000"/>
<circle cx="505.4" cy="387.3" r="2.7" fill="#00aa87"/>
<circle cx="145" cy="326.8" r="2.7" fill="#cbf900"/>
<circle cx="191" cy="385.3" r="2.7" fill="#cbf900"/>
<circle cx="571.5" cy="317.7" r="2.7" fill="#f30000"/>
<circle cx="233" cy="250.6" r="2.7" fill="#7c008d"/>
<circle cx="522.2" cy="500.9" r="2.7" fill="#f30000"/>
<circle cx="466.3" cy="455.4" r="2.7" fill="#0000dd"/>
<circle cx="184.7" cy="380.3" r="2.7" fill="#cbf900"/>
<circle cx="399.9" cy="284.7" r="2.7" fill="#00aa87"/>
<circle cx="225.4" cy="492.9" r="2.7" fill="#cbf900"/>
<circle cx="236" cy="360.7" r="2.7" fill="#0000dd"/>
<circle cx="674.9" cy="401.7" r="2.7" fill="#f30000"/>
<circle cx="421.1" cy="261.6" r="2.7" fill="#00aa87"/>
<circle cx="365.4" cy="247.4" r="2.7" fill="#ff9900"/>
<circle cx="314.2" cy="199.9" r="2.7" fill="#7c008d"/>
<circle cx="370.4" cy="229" r="2.7" fill="#cbf900"/>
<circle cx="206.7" cy="550.2" r="2.7" fill="#cbf900"/>
<circle cx="462.2" cy="401.3" r="2.7" fill="#f30000"/>
<circle cx="423.1" cy="241" r="2.7" fill="#ff9900"/>
<circle cx="330" cy="246.6" r="2.7" fill="#d10000"/>
<circle cx="621.8" cy="503.5" r="2.7" fill="#00aa87"/>
<circle cx="485.9" cy="311.1" r="2.7" fill="#0000dd"/>
<circle cx="423.3" cy="658.8" r="2.7" fill="#cbf900"/>
<circle cx="503.6" cy="478.6" r="2.7" fill="#0000dd"/>
<circle cx="261.2" cy="513.7" r="2.7" fill="#cbf900"/>
<circle cx="585.9" cy="370.8" r="2.7" fill="#f30000"/>
<circle cx="266.5" cy="185.4" r="2.7" fill="#f30000"/>
<circle cx="410.8" cy="358" r="2.7" fill="#f30000"/>
<circle cx="263.2" cy="166.6" r="2.7" fill="#7c008d"/>
<circle cx="380.7" cy="403.7" r="2.7" fill="#0000dd"/>
<circle cx="204.6" cy="167.5" r="2.7" fill="#cccccc"/>
<circle cx="438.8" cy="451.3" r="2.7" fill="#00aa87"/>
<circle cx="113.8" cy="428.8" r="2.7" fill="#cbf900"/>
<circle cx="577.4" cy="487.5" r="2.7" fill="#7c008d"/>
<circle cx="233.9" cy="542.7" r="2.7" fill="#cbf900"/>
<circle cx="477.2" cy="213.8" r="2.7" fill="#00aa87"/>
<circle cx="208.6" cy="322" r="2.7" fill="#00aa87"/>
<circle cx="500.3" cy="408.9" r="2.7" fill="#f30000"/>
<circle cx="421.8" cy="740.9" r="2.7" fill="#cbf900"/>
<circle cx="499.4" cy="501.3" r="2.7" fill="#00aa87"/>
<circle cx="358.1" cy="296.1" r="2.7" fill="#0000dd"/>
<circle cx="316.9" cy="330.7" r="2.7" fill="#00aa87"/>
<circle cx="342.4" cy="466.5" r="2.7" fill="#0082dd"/>
<circle cx="114.9" cy="398" r="2.7" fill="#0000dd"/>
<circle cx="402.5" cy="326.5" r="2.7" fill="#7c008d"/>
<circle cx="182" cy="298.4" r="2.7" fill="#0082dd"/>
<circle cx="367.3" cy="245.1" r="2.7" fill="#ff9900"/>
<circle cx="203.1" cy="228.9" r="2.7" fill="#cbf900"/>
<circle cx="403.6" cy="197.3" r="2.7" fill="#7c008d"/>
<circle cx="146.7" cy="432.1" r="2.7" fill="#cbf900"/>
<circle cx="248.4" cy="163.2" r="2.7" fill="#7c008d"/>
<circle cx="145.1" cy="372" r="2.7" fill="#f30000"/>
<circle cx="396.1" cy="740.6" r="2.7" fill="#cbf900"/>
<circle cx="426.4" cy="453.3" r="2.7" fill="#00aa87"/>
<circle cx="250.2" cy="482.3" r="2.7" fill="#cbf900"/>
<circle cx="269.5" cy="311.1" r="2.7" fill="#7c008d"/>
<circle cx="369.7" cy="692.6" r="2.7" fill="#cbf900"/>
<circle cx="611.2" cy="375.9" r="2.7" fill="#f30000"/>
<circle cx="178.9" cy="508" r="2.7" fill="#cbf900"/>
<circle cx="425.7" cy="734" r="2.7" fill="#cbf900"/>
<circle cx="534.7" cy="463.3" r="2.7" fill="#0000dd"/>
<circle cx="129.4" cy="415.7" r="2.7" fill="#cbf900"/>
<circle cx="443.7" cy="424.3" r="2.7" fill="#0000dd"/>
<circle cx="463.3" cy="701.4" r="2.7" fill="#00a4bb"/>
<circle cx="170.4" cy="237.7" r="2.7" fill="#2d00a4"/>
<circle cx="542.5" cy="389.7" r="2.7" fill="#00aa87"/>
<circle cx="199.3" cy="513.1" r="2.7" fill="#cbf900"/>
<circle cx="443.1" cy="722.6" r="2.7" fill="#cbf900"/>
<circle cx="571.9" cy="331.7" r="2.7" fill="#0000dd"/>
<circle cx="427.6" cy="341" r="2.7" fill="#7c008d"/>
<circle cx="202.2" cy="311.8" r="2.7" fill="#0082dd"/>
<circle cx="165" cy="337.9" r="2.7" fill="#0000dd"/>
<circle cx="192.3" cy="317.3" r="2.7" fill="#0082dd"/>
<circle cx="532.2" cy="389.3" r="2.7" fill="#00aa87"/>
<circle cx="161.1" cy="336" r="2.7" fill="#0000dd"/>
<circle cx="193.8" cy="387.3" r="2.7" fill="#f30000"/>
<circle cx="204.6" cy="242.2" r="2.7" fill="#7c008d"/>
<circle cx="565.4" cy="458.5" r="2.7" fill="#cbf900"/>
<circle cx="227.4" cy="302.9" r="2.7" fill="#0082dd"/>
<circle cx="645.4" cy="362.6" r="2.7" fill="#0000dd"/>
<circle cx="458.5" cy="316.3" r="2.7" fill="#0000dd"/>
<circle cx="573.6" cy="356" r="2.7" fill="#d10000"/>
<circle cx="441.2" cy="324.5" r="2.7" fill="#0082dd"/>
<circle cx="612.3" cy="379.3" r="2.7" fill="#f30000"/>
<circle cx="374.7" cy="699.1" r="2.7" fill="#cccccc"/>
<circle cx="589.2" cy="500.9" r="2.7" fill="#0082dd"/>
<circle cx="164.4" cy="486.4" r="2.7" fill="#0000dd"/>
<circle cx="254.8" cy="295.1" r="2.7" fill="#7c008d"/>
<circle cx="503" cy="345.1" r="2.7" fill="#00ff00"/>
<circle cx="611.7" cy="329.6" r="2.7" fill="#00ff00"/>
<circle cx="443.7" cy="281.9" r="2.7" fill="#0000dd"/>
<circle cx="288.6" cy="574.8" r="2.7" fill="#cbf900"/>
<circle cx="450.9" cy="228.6" r="2.7" fill="#f30000"/>
<circle cx="118" cy="388.3" r="2.7" fill="#cbf900"/>
<circle cx="601.4" cy="384.8" r="2.7" fill="#00aa87"/>
<circle cx="186.8" cy="292.8" r="2.7" fill="#cbf900"/>
<circle cx="456.5" cy="230.7" r="2.7" fill="#00d100"/>
<circle cx="257.6" cy="167.6" r="2.7" fill="#7c008d"/>
<circle cx="366.3" cy="252.6" r="2.7" fill="#ff9900"/>
<circle cx="242.8" cy="583.4" r="2.7" fill="#cbf900"/>
<circle cx="252.1" cy="531.1" r="2.7" fill="#cbf900"/>
<circle cx="468.4" cy="432.6" r="2.7" fill="#0000dd"/>
<circle cx="219" cy="503.3" r="2.7" fill="#cbf900"/>
<circle cx="458.1" cy="446.1" r="2.7" fill="#f30000"/>
<circle cx="399.1" cy="732.7" r="2.7" fill="#cbf900"/>
<circle cx="352.6" cy="457.9" r="2.7" fill="#0082dd"/>
<circle cx="638.9" cy="490.6" r="2.7" fill="#00aa87"/>
<circle cx="186.7" cy="472.4" r="2.7" fill="#00aa87"/>
<circle cx="168.6" cy="307.5" r="2.7" fill="#0000dd"/>
<circle cx="301.9" cy="510.2" r="2.7" fill="#0000dd"/>
<circle cx="286" cy="349.8" r="2.7" fill="#7c008d"/>
<circle cx="240.7" cy="283.3" r="2.7" fill="#7c008d"/>
<circle cx="226.2" cy="508.1" r="2.7" fill="#cbf900"/>
<circle cx="584.4" cy="459.1" r="2.7" fill="#00ff00"/>
<circle cx="365.4" cy="242.9" r="2.7" fill="#ff9900"/>
<circle cx="514.7" cy="365.7" r="2.7" fill="#0000dd"/>
<circle cx="332" cy="243" r="2.7" fill="#f30000"/>
<circle cx="232.2" cy="185" r="2.7" fill="#7c008d"/>
<circle cx="169.3" cy="476.2" r="2.7" fill="#0000dd"/>
<circle cx="372.7" cy="477.9" r="2.7" fill="#0082dd"/>
<circle cx="418" cy="244.1" r="2.7" fill="#ff9900"/>
<circle cx="400.1" cy="247.6" r="2.7" fill="#0000dd"/>
<circle cx="164.4" cy="342.1" r="2.7" fill="#0000dd"/>
<circle cx="252.9" cy="182.8" r="2.7" fill="#7c008d"/>
<circle cx="356.3" cy="444.7" r="2.7" fill="#0082dd"/>
<circle cx="535.9" cy="474.6" r="2.7" fill="#0000dd"/>
<circle cx="156" cy="482" r="2.7" fill="#0082dd"/>
<circle cx="143" cy="451.9" r="2.7" fill="#cbf900"/>
<circle cx="212.5" cy="483.3" r="2.7" fill="#f30000"/>
<circle cx="408.7" cy="267.3" r="2.7" fill="#00aa87"/>
<circle cx="172.7" cy="504.4" r="2.7" fill="#cbf900"/>
<circle cx="655" cy="399.1" r="2.7" fill="#f30000"/>
<circle cx="263.6" cy="442.6" r="2.7" fill="#cbf900"/>
<circle cx="226.7" cy="408.9" r="2.7" fill="#0082dd"/>
<circle cx="437.9" cy="262.6" r="2.7" fill="#ff9900"/>
<circle cx="219.2" cy="384.9" r="2.7" fill="#cbf900"/>
<circle cx="622.1" cy="379.4" r="2.7" fill="#f30000"/>
<circle cx="410.8" cy="421.2" r="2.7" fill="#00aa87"/>
<circle cx="358.1" cy="431.7" r="2.7" fill="#00aa87"/>
<circle cx="204.5" cy="494.9" r="2.7" fill="#cbf900"/>
<circle cx="354.1" cy="474.8" r="2.7" fill="#0082dd"/>
<circle cx="603.7" cy="356.2" r="2.7" fill="#f30000"/>
<circle cx="162.2" cy="252.4" r="2.7" fill="#cbf900"/>
<circle cx="202.8" cy="562.5" r="2.7" fill="#cbf900"/>
<circle cx="509.2" cy="464.7" r="2.7" fill="#0082dd"/>
<circle cx="212" cy="341.9" r="2.7" fill="#7c008d"/>
<circle cx="632.3" cy="426" r="2.7" fill="#f30000"/>
<circle cx="430.3" cy="298.3" r="2.7" fill="#0000dd"/>
<circle cx="391.2" cy="294.6" r="2.7" fill="#f30000"/>
<circle cx="203.6" cy="487.9" r="2.7" fill="#cbf900"/>
<circle cx="124.1" cy="394.5" r="2.7" fill="#0000dd"/>
<circle cx="270.6" cy="257" r="2.7" fill="#0000dd"/>
<circle cx="272" cy="549.8" r="2.7" fill="#cbf900"/>
<circle cx="214.8" cy="264.3" r="2.7" fill="#7c008d"/>
<circle cx="247.7" cy="291.4" r="2.7" fill="#7c008d"/>
<circle cx="238.4" cy="316.4" r="2.7" fill="#00aa87"/>
<circle cx="504.4" cy="511.7" r="2.7" fill="#00aa87"/>
<circle cx="382.9" cy="325" r="2.7" fill="#f30000"/>
<circle cx="532.9" cy="468.9" r="2.7" fill="#0082dd"/>
<circle cx="154" cy="328" r="2.7" fill="#cbf900"/>
<circle cx="522.8" cy="472.7" r="2.7" fill="#0000dd"/>
<circle cx="209.3" cy="519.8" r="2.7" fill="#cbf900"/>
<circle cx="447.8" cy="258.5" r="2.7" fill="#0082dd"/>
<circle cx="414.9" cy="196.1" r="2.7" fill="#cccccc"/>
<circle cx="333.8" cy="250.5" r="2.7" fill="#d10000"/>
<circle cx="277" cy="443.2" r="2.7" fill="#cbf900"/>
<circle cx="466.4" cy="701.6" r="2.7" fill="#00a4bb"/>
<circle cx="598.9" cy="515.4" r="2.7" fill="#00aa87"/>
<circle cx="150.7" cy="326.2" r="2.7" fill="#0082dd"/>
<circle cx="176.9" cy="253.4" r="2.7" fill="#7c008d"/>
<circle cx="145.7" cy="316.5" r="2.7" fill="#cbf900"/>
<circle cx="250.4" cy="383.2" r="2.7" fill="#f30000"/>
<circle cx="431.5" cy="732.2" r="2.7" fill="#cbf900"/>
<circle cx="255.3" cy="217.2" r="2.7" fill="#7c008d"/>
<circle cx="261.7" cy="299.2" r="2.7" fill="#7c008d"/>
<circle cx="400.2" cy="729.2" r="2.7" fill="#cbf900"/>
<circle cx="258.6" cy="213.1" r="2.7" fill="#0000dd"/>
<circle cx="493.1" cy="426.4" r="2.7" fill="#7c008d"/>
<circle cx="150.3" cy="267.7" r="2.7" fill="#0082dd"/>
<circle cx="250.6" cy="571.4" r="2.7" fill="#cbf900"/>
<circle cx="351.2" cy="409.8" r="2.7" fill="#7c008d"/>
<circle cx="598.9" cy="322.5" r="2.7" fill="#00ff00"/>
<circle cx="296.4" cy="194.1" r="2.7" fill="#7c008d"/>
<circle cx="179.8" cy="391.4" r="2.7" fill="#d10000"/>
<circle cx="268.3" cy="212.1" r="2.7" fill="#7c008d"/>
<circle cx="236.1" cy="217" r="2.7" fill="#7c008d"/>
<circle cx="403.6" cy="301.8" r="2.7" fill="#f30000"/>
<circle cx="206.7" cy="559" r="2.7" fill="#cbf900"/>
<circle cx="374" cy="324.7" r="2.7" fill="#f30000"/>
<circle cx="364.5" cy="694.6" r="2.7" fill="#cbf900"/>
<circle cx="138.5" cy="311.7" r="2.7" fill="#0082dd"/>
<circle cx="485.9" cy="424.3" r="2.7" fill="#7c008d"/>
<circle cx="231.1" cy="383" r="2.7" fill="#00aa87"/>
<circle cx="151.9" cy="434.7" r="2.7" fill="#cbf900"/>
<circle cx="617.2" cy="321.4" r="2.7" fill="#0082dd"/>
<circle cx="508.5" cy="526.8" r="2.7" fill="#0082dd"/>
<circle cx="168" cy="377.1" r="2.7" fill="#ff9900"/>
<circle cx="339.1" cy="251.4" r="2.7" fill="#d10000"/>
<circle cx="163.2" cy="378" r="2.7" fill="#f30000"/>
<circle cx="349.5" cy="460" r="2.7" fill="#f30000"/>
<circle cx="116.9" cy="328" r="2.7" fill="#cbf900"/>
<circle cx="146.9" cy="478.8" r="2.7" fill="#0000dd"/>
<circle cx="132.6" cy="320" r="2.7" fill="#cbf900"/>
<circle cx="207.8" cy="372.8" r="2.7" fill="#7c008d"/>
<circle cx="398.4" cy="265.7" r="2.7" fill="#00aa87"/>
<circle cx="501.5" cy="493.7" r="2.7" fill="#7c008d"/>
<circle cx="469.4" cy="286.4" r="2.7" fill="#00aa87"/>
<circle cx="472.5" cy="325.1" r="2.7" fill="#00aa87"/>
<circle cx="259.4" cy="218.3" r="2.7" fill="#7c008d"/>
<circle cx="589.8" cy="475.1" r="2.7" fill="#f30000"/>
<circle cx="417.1" cy="742.5" r="2.7" fill="#cbf900"/>
<circle cx="651.8" cy="369.5" r="2.7" fill="#0000dd"/>
<circle cx="289.3" cy="460.8" r="2.7" fill="#cbf900"/>
<circle cx="429.4" cy="729.1" r="2.7" fill="#cbf900"/>
<circle cx="579.9" cy="497.2" r="2.7" fill="#00aa87"/>
<circle cx="377.9" cy="329.6" r="2.7" fill="#f30000"/>
<circle cx="218.7" cy="468.9" r="2.7" fill="#f30000"/>
<circle cx="205.4" cy="288.9" r="2.7" fill="#7c008d"/>
<circle cx="130" cy="456.6" r="2.7" fill="#0000dd"/>
<circle cx="491" cy="346.5" r="2.7" fill="#cbf900"/>
<circle cx="429.7" cy="257.4" r="2.7" fill="#00aa87"/>
<circle cx="428.6" cy="720.1" r="2.7" fill="#cbf900"/>
<circle cx="658.4" cy="356" r="2.7" fill="#00aa87"/>
<circle cx="362.5" cy="258.9" r="2.7" fill="#ff9900"/>
<circle cx="267.4" cy="295.3" r="2.7" fill="#7c008d"/>
<circle cx="567.4" cy="405.4" r="2.7" fill="#7c008d"/>
<circle cx="364.4" cy="404.3" r="2.7" fill="#00aa87"/>
<circle cx="319.5" cy="195.7" r="2.7" fill="#f30000"/>
<circle cx="360.1" cy="345.7" r="2.7" fill="#cbf900"/>
<circle cx="455" cy="377" r="2.7" fill="#f30000"/>
<circle cx="171.8" cy="269.8" r="2.7" fill="#7c008d"/>
<circle cx="155.9" cy="419.4" r="2.7" fill="#cbf900"/>
<circle cx="396.4" cy="414" r="2.7" fill="#00aa87"/>
<circle cx="194.8" cy="495.5" r="2.7" fill="#cbf900"/>
<circle cx="354.1" cy="308.1" r="2.7" fill="#0000dd"/>
<circle cx="307.9" cy="187.7" r="2.7" fill="#7c008d"/>
<circle cx="219.1" cy="422.3" r="2.7" fill="#0082dd"/>
<circle cx="228.3" cy="580" r="2.7" fill="#cbf900"/>
<circle cx="457.4" cy="444" r="2.7" fill="#0000dd"/>
<circle cx="569.5" cy="402.7" r="2.7" fill="#7c008d"/>
<circle cx="198.7" cy="469.5" r="2.7" fill="#0000dd"/>
<circle cx="261.3" cy="185.4" r="2.7" fill="#cbf900"/>
<circle cx="159.2" cy="469.6" r="2.7" fill="#0000dd"/>
<circle cx="533.5" cy="477.3" r="2.7" fill="#0000dd"/>
<circle cx="447.2" cy="739.8" r="2.7" fill="#cbf900"/>
<circle cx="488.5" cy="486.4" r="2.7" fill="#00aa87"/>
<circle cx="302.9" cy="460.6" r="2.7" fill="#cbf900"/>
<circle cx="148.3" cy="321.8" r="2.7" fill="#0082dd"/>
<circle cx="409" cy="689.5" r="2.7" fill="#cbf900"/>
<circle cx="354.9" cy="403.9" r="2.7" fill="#00aa87"/>
<circle cx="582.8" cy="399.6" r="2.7" fill="#f30000"/>
<circle cx="554" cy="460.6" r="2.7" fill="#00d100"/>
<circle cx="234.5" cy="324.9" r="2.7" fill="#00a4bb"/>
<circle cx="246.6" cy="227.3" r="2.7" fill="#7c008d"/>
<circle cx="662.1" cy="430.5" r="2.7" fill="#7c008d"/>
<circle cx="386.1" cy="430.5" r="2.7" fill="#00aa87"/>
<circle cx="110.5" cy="453.8" r="2.7" fill="#0000dd"/>
<circle cx="458.5" cy="245.7" r="2.7" fill="#0000dd"/>
<circle cx="410.7" cy="734.8" r="2.7" fill="#cbf900"/>
<circle cx="593.8" cy="431.5" r="2.7" fill="#f30000"/>
<circle cx="164.6" cy="469.1" r="2.7" fill="#0000dd"/>
<circle cx="407.7" cy="205" r="2.7" fill="#7c008d"/>
<circle cx="406.2" cy="305.3" r="2.7" fill="#f30000"/>
<circle cx="242.8" cy="322.2" r="2.7" fill="#0082dd"/>
<circle cx="665.5" cy="414.1" r="2.7" fill="#f30000"/>
<circle cx="576.2" cy="467.4" r="2.7" fill="#0000dd"/>
<circle cx="131.9" cy="452.5" r="2.7" fill="#0000dd"/>
<circle cx="202.7" cy="317.3" r="2.7" fill="#cbf900"/>
<circle cx="305.6" cy="319.3" r="2.7" fill="#00aa87"/>
<circle cx="419" cy="412" r="2.7" fill="#0000dd"/>
<circle cx="129.6" cy="274.1" r="2.7" fill="#0082dd"/>
<circle cx="445.8" cy="406.8" r="2.7" fill="#0000dd"/>
<circle cx="326.5" cy="243.2" r="2.7" fill="#d10000"/>
<circle cx="310.8" cy="515.4" r="2.7" fill="#0082dd"/>
<circle cx="141.7" cy="353.3" r="2.7" fill="#cbf900"/>
<circle cx="507.7" cy="491" r="2.7" fill="#00aa87"/>
<circle cx="519.9" cy="477" r="2.7" fill="#0000dd"/>
<circle cx="486.5" cy="403.7" r="2.7" fill="#f30000"/>
<circle cx="272.1" cy="446.8" r="2.7" fill="#cbf900"/>
<circle cx="501.3" cy="246.1" r="2.7" fill="#f30000"/>
<circle cx="141.5" cy="369.4" r="2.7" fill="#0000dd"/>
<circle cx="581.4" cy="323.9" r="2.7" fill="#0082dd"/>
<circle cx="412.8" cy="399.2" r="2.7" fill="#00aa87"/>
<circle cx="519.1" cy="460.3" r="2.7" fill="#0082dd"/>
<circle cx="238.3" cy="514.4" r="2.7" fill="#cbf900"/>
<circle cx="340.6" cy="205" r="2.7" fill="#0000dd"/>
<circle cx="388.1" cy="331.7" r="2.7" fill="#f30000"/>
<circle cx="379.5" cy="732.9" r="2.7" fill="#cbf900"/>
<circle cx="365" cy="419.8" r="2.7" fill="#0000dd"/>
<circle cx="573.3" cy="494.3" r="2.7" fill="#00aa87"/>
<circle cx="162.2" cy="374" r="2.7" fill="#ff9900"/>
<circle cx="213.9" cy="382.3" r="2.7" fill="#cbf900"/>
<circle cx="157.5" cy="459.6" r="2.7" fill="#cbf900"/>
<circle cx="489" cy="437.7" r="2.7" fill="#f30000"/>
<circle cx="157.7" cy="488.4" r="2.7" fill="#0000dd"/>
<circle cx="106.3" cy="410.2" r="2.7" fill="#0000dd"/>
<circle cx="594" cy="504" r="2.7" fill="#7c008d"/>
<circle cx="423.4" cy="644.4" r="2.7" fill="#00a4bb"/>
<circle cx="279.1" cy="435.9" r="2.7" fill="#cbf900"/>
<circle cx="170.2" cy="482.5" r="2.7" fill="#00aa87"/>
<circle cx="272.2" cy="231.1" r="2.7" fill="#f30000"/>
<circle cx="164.7" cy="287.4" r="2.7" fill="#0082dd"/>
<circle cx="149.2" cy="467.4" r="2.7" fill="#0000dd"/>
<circle cx="276.6" cy="293.2" r="2.7" fill="#7c008d"/>
<circle cx="425.1" cy="738.3" r="2.7" fill="#cbf900"/>
<circle cx="254.2" cy="253.9" r="2.7" fill="#7c008d"/>
<circle cx="381.9" cy="695.2" r="2.7" fill="#cccccc"/>
<circle cx="262.9" cy="254.1" r="2.7" fill="#7c008d"/>
<circle cx="186.8" cy="174" r="2.7" fill="#7c008d"/>
<circle cx="212.6" cy="525.8" r="2.7" fill="#cbf900"/>
<circle cx="554" cy="469.9" r="2.7" fill="#0082dd"/>
<circle cx="352.3" cy="292.5" r="2.7" fill="#0000dd"/>
<circle cx="601.4" cy="389.7" r="2.7" fill="#00aa87"/>
<circle cx="269.5" cy="345.7" r="2.7" fill="#00ff00"/>
<circle cx="405.6" cy="261.6" r="2.7" fill="#cbf900"/>
<circle cx="540.8" cy="519.5" r="2.7" fill="#cccccc"/>
<circle cx="146.5" cy="302.8" r="2.7" fill="#0082dd"/>
<circle cx="468.9" cy="704.8" r="2.7" fill="#00a4bb"/>
<circle cx="322.6" cy="244" r="2.7" fill="#d10000"/>
<circle cx="607.5" cy="358.9" r="2.7" fill="#f30000"/>
<circle cx="528.3" cy="466.9" r="2.7" fill="#0000dd"/>
<circle cx="424.3" cy="748.4" r="2.7" fill="#cbf900"/>
<circle cx="365" cy="258.2" r="2.7" fill="#ff9900"/>
<circle cx="276.8" cy="303.9" r="2.7" fill="#7c008d"/>
<circle cx="534.3" cy="383.2" r="2.7" fill="#00aa87"/>
<circle cx="143.6" cy="334.1" r="2.7" fill="#cbf900"/>
<circle cx="259.9" cy="303.2" r="2.7" fill="#7c008d"/>
<circle cx="651.6" cy="409.9" r="2.7" fill="#f30000"/>
<circle cx="612.7" cy="307.4" r="2.7" fill="#0082dd"/>
<circle cx="338" cy="456.9" r="2.7" fill="#0082dd"/>
<circle cx="146.9" cy="283.3" r="2.7" fill="#0082dd"/>
<circle cx="241.3" cy="291.3" r="2.7" fill="#7c008d"/>
<circle cx="299.8" cy="358.5" r="2.7" fill="#7c008d"/>
<circle cx="273.6" cy="246.8" r="2.7" fill="#7c008d"/>
<circle cx="450.9" cy="424.3" r="2.7" fill="#0000dd"/>
<circle cx="524.8" cy="476.6" r="2.7" fill="#0082dd"/>
<circle cx="300.1" cy="197.3" r="2.7" fill="#f30000"/>
<circle cx="364.3" cy="413.3" r="2.7" fill="#0000dd"/>
<circle cx="251.7" cy="550.6" r="2.7" fill="#cbf900"/>
<circle cx="267.2" cy="555.6" r="2.7" fill="#cbf900"/>
<circle cx="355.5" cy="249.2" r="2.7" fill="#ff9900"/>
<circle cx="453" cy="368.7" r="2.7" fill="#f30000"/>
<circle cx="673" cy="409.1" r="2.7" fill="#d10000"/>
<circle cx="124.6" cy="288" r="2.7" fill="#0082dd"/>
<circle cx="361.5" cy="246.1" r="2.7" fill="#ff9900"/>
<circle cx="217.9" cy="388.4" r="2.7" fill="#cbf900"/>
<circle cx="603.9" cy="491" r="2.7" fill="#00aa87"/>
<circle cx="216" cy="463.7" r="2.7" fill="#f30000"/>
<circle cx="188.7" cy="401.3" r="2.7" fill="#0000dd"/>
<circle cx="347.4" cy="318.4" r="2.7" fill="#0000dd"/>
<circle cx="219.8" cy="371.5" r="2.7" fill="#00aa87"/>
<circle cx="575.6" cy="342" r="2.7" fill="#00aa87"/>
<circle cx="273.3" cy="218.5" r="2.7" fill="#7c008d"/>
<circle cx="270.5" cy="430.1" r="2.7" fill="#cbf900"/>
<circle cx="612.7" cy="402.1" r="2.7" fill="#f30000"/>
<circle cx="168.8" cy="317.2" r="2.7" fill="#0000dd"/>
<circle cx="229.4" cy="362.2" r="2.7" fill="#f30000"/>
<circle cx="450.2" cy="451.3" r="2.7" fill="#0000dd"/>
<circle cx="299.6" cy="189.7" r="2.7" fill="#7c008d"/>
<circle cx="453.3" cy="448.8" r="2.7" fill="#0000dd"/>
<circle cx="144.8" cy="456.2" r="2.7" fill="#cbf900"/>
<circle cx="372.5" cy="343.6" r="2.7" fill="#cbf900"/>
<circle cx="453" cy="274.5" r="2.7" fill="#f30000"/>
<circle cx="596" cy="522.6" r="2.7" fill="#00a400"/>
<circle cx="591.1" cy="380.1" r="2.7" fill="#0000dd"/>
<circle cx="344.3" cy="450.9" r="2.7" fill="#f30000"/>
<circle cx="133.5" cy="355.4" r="2.7" fill="#cbf900"/>
<circle cx="148.6" cy="312.7" r="2.7" fill="#0082dd"/>
<circle cx="231.1" cy="179.8" r="2.7" fill="#f30000"/>
<circle cx="270.2" cy="268.1" r="2.7" fill="#7c008d"/>
<circle cx="233.9" cy="320.3" r="2.7" fill="#00aa87"/>
<circle cx="301.5" cy="301.8" r="2.7" fill="#cbf900"/>
<circle cx="617.2" cy="315.2" r="2.7" fill="#0082dd"/>
<circle cx="380.7" cy="356" r="2.7" fill="#0000dd"/>
<circle cx="162.3" cy="293.6" r="2.7" fill="#0082dd"/>
<circle cx="597.3" cy="378" r="2.7" fill="#0000dd"/>
<circle cx="228.4" cy="274.1" r="2.7" fill="#f9d700"/>
<circle cx="436.5" cy="651.5" r="2.7" fill="#cbf900"/>
<circle cx="269.8" cy="299.9" r="2.7" fill="#7c008d"/>
<circle cx="363.9" cy="448.2" r="2.7" fill="#00aa87"/>
<circle cx="585.1" cy="478.2" r="2.7" fill="#00aa87"/>
<circle cx="665.9" cy="399.6" r="2.7" fill="#f30000"/>
<circle cx="221.2" cy="241" r="2.7" fill="#cbf900"/>
<circle cx="226" cy="371" r="2.7" fill="#0000dd"/>
<circle cx="345.3" cy="483.3" r="2.7" fill="#00aa87"/>
<circle cx="148.3" cy="249.3" r="2.7" fill="#cbf900"/>
<circle cx="321.6" cy="348.2" r="2.7" fill="#f30000"/>
<circle cx="431" cy="653.9" r="2.7" fill="#cbf900"/>
<circle cx="658.4" cy="362.4" r="2.7" fill="#0000dd"/>
<circle cx="433" cy="238.9" r="2.7" fill="#0000dd"/>
<circle cx="275.9" cy="449.7" r="2.7" fill="#cbf900"/>
<circle cx="265.7" cy="493.7" r="2.7" fill="#ff9900"/>
<circle cx="241.5" cy="168.7" r="2.7" fill="#7c008d"/>
<circle cx="206.6" cy="310.2" r="2.7" fill="#7c008d"/>
<circle cx="169.5" cy="395.5" r="2.7" fill="#0000dd"/>
<circle cx="265.7" cy="491.6" r="2.7" fill="#ff9900"/>
<circle cx="345.1" cy="402.1" r="2.7" fill="#ff9900"/>
<circle cx="404.1" cy="730.4" r="2.7" fill="#cbf900"/>
<circle cx="124.8" cy="251.4" r="2.7" fill="#0082dd"/>
<circle cx="357.1" cy="411.1" r="2.7" fill="#0000dd"/>
<circle cx="389.8" cy="320.4" r="2.7" fill="#0082dd"/>
<circle cx="503.4" cy="413.6" r="2.7" fill="#f30000"/>
<circle cx="223.7" cy="478.2" r="2.7" fill="#00aa87"/>
<circle cx="400.5" cy="435.6" r="2.7" fill="#00aa87"/>
<circle cx="586.5" cy="477.1" r="2.7" fill="#00aa87"/>
<circle cx="278.4" cy="220" r="2.7" fill="#7c008d"/>
<circle cx="406.9" cy="722.6" r="2.7" fill="#cbf900"/>
<circle cx="633.3" cy="459.5" r="2.7" fill="#0000dd"/>
<circle cx="227.3" cy="571.6" r="2.7" fill="#cbf900"/>
<circle cx="316.9" cy="429.5" r="2.7" fill="#f30000"/>
<circle cx="370.7" cy="700.3" r="2.7" fill="#cbf900"/>
<circle cx="253" cy="163.8" r="2.7" fill="#7c008d"/>
<circle cx="363.2" cy="303.2" r="2.7" fill="#0000dd"/>
<circle cx="365" cy="703.8" r="2.7" fill="#cbf900"/>
<circle cx="407.1" cy="286" r="2.7" fill="#00aa87"/>
<circle cx="235.8" cy="377.8" r="2.7" fill="#0000dd"/>
<circle cx="265.4" cy="329.6" r="2.7" fill="#cccccc"/>
<circle cx="582.8" cy="413.6" r="2.7" fill="#f30000"/>
<circle cx="426.2" cy="725.4" r="2.7" fill="#cbf900"/>
<circle cx="156.9" cy="365.2" r="2.7" fill="#0082dd"/>
<circle cx="132.3" cy="437.6" r="2.7" fill="#cbf900"/>
<circle cx="179.5" cy="475.3" r="2.7" fill="#cbf900"/>
<circle cx="318.3" cy="368.7" r="2.7" fill="#0000dd"/>
<circle cx="251.9" cy="159" r="2.7" fill="#7c008d"/>
<circle cx="310.7" cy="373.9" r="2.7" fill="#0000dd"/>
<circle cx="189.1" cy="327" r="2.7" fill="#7c008d"/>
<circle cx="596.2" cy="403.7" r="2.7" fill="#00aa87"/>
<circle cx="198" cy="307.4" r="2.7" fill="#cbf900"/>
<circle cx="651" cy="402.2" r="2.7" fill="#f30000"/>
<circle cx="525.6" cy="430.5" r="2.7" fill="#0000dd"/>
<circle cx="223.3" cy="361.6" r="2.7" fill="#f30000"/>
<circle cx="521.3" cy="466.5" r="2.7" fill="#0082dd"/>
<circle cx="331.9" cy="458.5" r="2.7" fill="#cbf900"/>
<circle cx="245.2" cy="181.9" r="2.7" fill="#7c008d"/>
<circle cx="169.6" cy="487.1" r="2.7" fill="#cbf900"/>
<circle cx="174.7" cy="387.2" r="2.7" fill="#0082dd"/>
<circle cx="432.7" cy="641.2" r="2.7" fill="#cccccc"/>
<circle cx="471.1" cy="696.6" r="2.7" fill="#00a4bb"/>
<circle cx="412.5" cy="470.3" r="2.7" fill="#cbf900"/>
<circle cx="267.2" cy="562.6" r="2.7" fill="#cbf900"/>
<circle cx="219.3" cy="531.7" r="2.7" fill="#cbf900"/>
<circle cx="230.4" cy="190.5" r="2.7" fill="#0082dd"/>
<circle cx="392.8" cy="733.3" r="2.7" fill="#cbf900"/>
<circle cx="303.5" cy="322.4" r="2.7" fill="#7c008d"/>
<circle cx="341.2" cy="342" r="2.7" fill="#0000dd"/>
<circle cx="189.1" cy="390.4" r="2.7" fill="#f30000"/>
<circle cx="261.5" cy="573.7" r="2.7" fill="#cbf900"/>
<circle cx="207" cy="302" r="2.7" fill="#7c008d"/>
<circle cx="432" cy="726.5" r="2.7" fill="#cbf900"/>
<circle cx="501.3" cy="218.7" r="2.7" fill="#0000dd"/>
<circle cx="150.4" cy="372.8" r="2.7" fill="#0000dd"/>
<circle cx="260.3" cy="324.5" r="2.7" fill="#0000dd"/>
<circle cx="268.9" cy="168.5" r="2.7" fill="#cbf900"/>
<circle cx="135.3" cy="296.8" r="2.7" fill="#0082dd"/>
<circle cx="124.2" cy="258.1" r="2.7" fill="#0082dd"/>
<circle cx="196.1" cy="369.9" r="2.7" fill="#0000dd"/>
<circle cx="577.7" cy="421.9" r="2.7" fill="#00aa87"/>
<circle cx="437.5" cy="656.3" r="2.7" fill="#cbf900"/>
<circle cx="210.7" cy="258.1" r="2.7" fill="#7c008d"/>
<circle cx="562.3" cy="328.6" r="2.7" fill="#f30000"/>
<circle cx="126.7" cy="480.2" r="2.7" fill="#cbf900"/>
<circle cx="230.4" cy="145.3" r="2.7" fill="#f30000"/>
<circle cx="470.5" cy="243" r="2.7" fill="#0000dd"/>
<circle cx="127.2" cy="422.3" r="2.7" fill="#cbf900"/>
<circle cx="207.7" cy="386.5" r="2.7" fill="#0082dd"/>
<circle cx="196.6" cy="313.7" r="2.7" fill="#0082dd"/>
<circle cx="358.3" cy="470" r="2.7" fill="#0082dd"/>
<circle cx="290.9" cy="450.9" r="2.7" fill="#7c008d"/>
<circle cx="369.4" cy="476.2" r="2.7" fill="#0082dd"/>
<circle cx="166.4" cy="298.4" r="2.7" fill="#0082dd"/>
<circle cx="209.7" cy="250.3" r="2.7" fill="#cbf900"/>
<circle cx="420" cy="265.7" r="2.7" fill="#00aa87"/>
<circle cx="119.6" cy="283.1" r="2.7" fill="#0082dd"/>
<circle cx="167" cy="303.7" r="2.7" fill="#7c008d"/>
<circle cx="658.7" cy="397.4" r="2.7" fill="#d10000"/>
<circle cx="615.8" cy="378.3" r="2.7" fill="#f30000"/>
<circle cx="608" cy="497.1" r="2.7" fill="#00aa87"/>
<circle cx="314.2" cy="333.1" r="2.7" fill="#00aa87"/>
<circle cx="229.1" cy="562" r="2.7" fill="#cbf900"/>
<circle cx="466.3" cy="273" r="2.7" fill="#f30000"/>
<circle cx="307.8" cy="524.3" r="2.7" fill="#0082dd"/>
<circle cx="439.7" cy="650.9" r="2.7" fill="#cccccc"/>
<circle cx="436.1" cy="734.4" r="2.7" fill="#cbf900"/>
<circle cx="211.1" cy="554.8" r="2.7" fill="#cbf900"/>
<circle cx="137" cy="275.3" r="2.7" fill="#0082dd"/>
<circle cx="673.6" cy="405.4" r="2.7" fill="#f30000"/>
<circle cx="155.9" cy="347.3" r="2.7" fill="#0000dd"/>
<circle cx="431.5" cy="629.8" r="2.7" fill="#cccccc"/>
<circle cx="594.2" cy="397.6" r="2.7" fill="#0000dd"/>
<circle cx="386.1" cy="444" r="2.7" fill="#00aa87"/>
<circle cx="626.1" cy="432.1" r="2.7" fill="#7c008d"/>
<circle cx="471.5" cy="246.7" r="2.7" fill="#cbf900"/>
<circle cx="465.9" cy="305.3" r="2.7" fill="#7c008d"/>
<circle cx="253.4" cy="222.7" r="2.7" fill="#7c008d"/>
<circle cx="690.5" cy="394.5" r="2.7" fill="#00aa87"/>
<circle cx="478.7" cy="255.8" r="2.7" fill="#0000dd"/>
<circle cx="307" cy="194.8" r="2.7" fill="#7c008d"/>
<circle cx="621.1" cy="494.5" r="2.7" fill="#00aa87"/>
<circle cx="398.3" cy="737.9" r="2.7" fill="#cbf900"/>
<circle cx="148.9" cy="484.3" r="2.7" fill="#0000dd"/>
<circle cx="342.6" cy="303.1" r="2.7" fill="#0000dd"/>
<circle cx="229.8" cy="211.1" r="2.7" fill="#cbf900"/>
<circle cx="171.4" cy="329.8" r="2.7" fill="#00aa87"/>
<circle cx="245.9" cy="242.2" r="2.7" fill="#7c008d"/>
<circle cx="299.4" cy="313.2" r="2.7" fill="#0000dd"/>
<circle cx="237.7" cy="327" r="2.7" fill="#00a4bb"/>
<circle cx="199.1" cy="532.3" r="2.7" fill="#cbf900"/>
<circle cx="208" cy="352.9" r="2.7" fill="#00aa87"/>
<circle cx="306" cy="201.3" r="2.7" fill="#7c008d"/>
<circle cx="201.5" cy="241.8" r="2.7" fill="#7c008d"/>
<circle cx="159.8" cy="322.4" r="2.7" fill="#cbf900"/>
<circle cx="223.5" cy="148.2" r="2.7" fill="#7c008d"/>
<circle cx="205.5" cy="473.6" r="2.7" fill="#cbf900"/>
<circle cx="587.6" cy="373.9" r="2.7" fill="#f30000"/>
<circle cx="173.1" cy="298.4" r="2.7" fill="#0082dd"/>
<circle cx="192.8" cy="306" r="2.7" fill="#0082dd"/>
<circle cx="474.2" cy="310.1" r="2.7" fill="#0000dd"/>
<circle cx="357.7" cy="251.7" r="2.7" fill="#ff9900"/>
<circle cx="143.3" cy="379.9" r="2.7" fill="#0000dd"/>
<circle cx="367.8" cy="248.4" r="2.7" fill="#ff9900"/>
<circle cx="270.7" cy="457.4" r="2.7" fill="#cbf900"/>
<circle cx="488" cy="275.7" r="2.7" fill="#00aa87"/>
<circle cx="256" cy="300.1" r="2.7" fill="#7c008d"/>
<circle cx="470.5" cy="401.3" r="2.7" fill="#f30000"/>
<circle cx="266.8" cy="289" r="2.7" fill="#7c008d"/>
<circle cx="431.8" cy="252.3" r="2.7" fill="#0000dd"/>
<circle cx="118.6" cy="259.6" r="2.7" fill="#0082dd"/>
<circle cx="143.9" cy="310.9" r="2.7" fill="#cbf900"/>
<circle cx="156.9" cy="285.4" r="2.7" fill="#0000dd"/>
<circle cx="153.5" cy="412.1" r="2.7" fill="#cbf900"/>
<circle cx="189.1" cy="416.8" r="2.7" fill="#0000dd"/>
<circle cx="154.1" cy="451.1" r="2.7" fill="#cbf900"/>
<circle cx="122.1" cy="263.6" r="2.7" fill="#0082dd"/>
<circle cx="152.7" cy="320.8" r="2.7" fill="#0082dd"/>
<circle cx="399.4" cy="201.2" r="2.7" fill="#7c008d"/>
<circle cx="241.9" cy="164.7" r="2.7" fill="#7c008d"/>
<circle cx="408.7" cy="412" r="2.7" fill="#00aa87"/>
<circle cx="239.9" cy="152.2" r="2.7" fill="#7c008d"/>
<circle cx="558.8" cy="383.2" r="2.7" fill="#f30000"/>
<circle cx="514.7" cy="398" r="2.7" fill="#f30000"/>
<circle cx="538.1" cy="512.9" r="2.7" fill="#0000dd"/>
<circle cx="375.1" cy="744.2" r="2.7" fill="#cbf900"/>
<circle cx="479.7" cy="378.6" r="2.7" fill="#f30000"/>
<circle cx="404.6" cy="428.4" r="2.7" fill="#00aa87"/>
<circle cx="246" cy="249.9" r="2.7" fill="#7c008d"/>
<circle cx="118.5" cy="423" r="2.7" fill="#cbf900"/>
<circle cx="578.9" cy="499.9" r="2.7" fill="#0082dd"/>
<circle cx="186.9" cy="480.9" r="2.7" fill="#cbf900"/>
<circle cx="470.5" cy="280.6" r="2.7" fill="#00aa87"/>
<circle cx="435.9" cy="388.9" r="2.7" fill="#00aa87"/>
<circle cx="240.4" cy="175.3" r="2.7" fill="#7c008d"/>
<circle cx="427.4" cy="649.6" r="2.7" fill="#cbf900"/>
<circle cx="458.1" cy="304.9" r="2.7" fill="#0000dd"/>
<circle cx="225.8" cy="460.6" r="2.7" fill="#cccccc"/>
<circle cx="125.3" cy="274.6" r="2.7" fill="#0082dd"/>
<circle cx="230" cy="357.6" r="2.7" fill="#cbf900"/>
<circle cx="264.8" cy="463" r="2.7" fill="#cbf900"/>
<circle cx="259.4" cy="289.6" r="2.7" fill="#7c008d"/>
<circle cx="148.2" cy="416.8" r="2.7" fill="#cbf900"/>
<circle cx="361.2" cy="307.5" r="2.7" fill="#0000dd"/>
<circle cx="236.9" cy="531.8" r="2.7" fill="#cbf900"/>
<circle cx="503.4" cy="430.5" r="2.7" fill="#f30000"/>
<circle cx="121.2" cy="453.2" r="2.7" fill="#0000dd"/>
<circle cx="175.2" cy="363" r="2.7" fill="#0082dd"/>
<circle cx="359.5" cy="240.1" r="2.7" fill="#ff9900"/>
<circle cx="139" cy="417.5" r="2.7" fill="#cbf900"/>
<circle cx="262.3" cy="171.9" r="2.7" fill="#7c008d"/>
<circle cx="610.6" cy="314.8" r="2.7" fill="#00ff00"/>
<circle cx="256.5" cy="246" r="2.7" fill="#7c008d"/>
<circle cx="263.5" cy="223.9" r="2.7" fill="#0000dd"/>
<circle cx="246" cy="168.6" r="2.7" fill="#7c008d"/>
<circle cx="209.3" cy="423.9" r="2.7" fill="#0000dd"/>
<circle cx="329.2" cy="267.7" r="2.7" fill="#cbf900"/>
<circle cx="301" cy="410.3" r="2.7" fill="#cbf900"/>
<circle cx="292.8" cy="258.5" r="2.7" fill="#7c008d"/>
<circle cx="531.9" cy="481.3" r="2.7" fill="#7c008d"/>
<circle cx="197" cy="381.8" r="2.7" fill="#cbf900"/>
<circle cx="185.1" cy="359" r="2.7" fill="#0000dd"/>
<circle cx="596" cy="352.1" r="2.7" fill="#f30000"/>
<circle cx="260.2" cy="249.3" r="2.7" fill="#7c008d"/>
<circle cx="446.9" cy="735.9" r="2.7" fill="#cbf900"/>
<circle cx="663.3" cy="410.4" r="2.7" fill="#d10000"/>
<circle cx="421.4" cy="745.8" r="2.7" fill="#cbf900"/>
<circle cx="655.1" cy="413.6" r="2.7" fill="#d10000"/>
<circle cx="465.9" cy="417.1" r="2.7" fill="#0000dd"/>
<circle cx="270.6" cy="196.7" r="2.7" fill="#f30000"/>
<circle cx="122.4" cy="314.3" r="2.7" fill="#cbf900"/>
<circle cx="436.6" cy="739.8" r="2.7" fill="#cbf900"/>
<circle cx="206.1" cy="294.6" r="2.7" fill="#0082dd"/>
<circle cx="155.3" cy="428.5" r="2.7" fill="#cbf900"/>
<circle cx="589" cy="313.2" r="2.7" fill="#00ff00"/>
<circle cx="382.8" cy="747.9" r="2.7" fill="#cbf900"/>
<circle cx="649.2" cy="366.5" r="2.7" fill="#0000dd"/>
<circle cx="608.5" cy="353.9" r="2.7" fill="#f30000"/>
<circle cx="302.5" cy="349.2" r="2.7" fill="#ff9900"/>
<circle cx="646.3" cy="409.3" r="2.7" fill="#f30000"/>
<circle cx="329.2" cy="406.2" r="2.7" fill="#0082dd"/>
<circle cx="530.9" cy="443" r="2.7" fill="#0000dd"/>
<circle cx="188.2" cy="310.1" r="2.7" fill="#0082dd"/>
<circle cx="203.9" cy="544.1" r="2.7" fill="#cbf900"/>
<circle cx="245.5" cy="328" r="2.7" fill="#ff9900"/>
<circle cx="168" cy="452.4" r="2.7" fill="#cbf900"/>
<circle cx="311.3" cy="195.4" r="2.7" fill="#7c008d"/>
<circle cx="389.6" cy="745.9" r="2.7" fill="#cbf900"/>
<circle cx="401.8" cy="738.6" r="2.7" fill="#cbf900"/>
<circle cx="270.7" cy="242.3" r="2.7" fill="#7c008d"/>
<circle cx="342.5" cy="314.7" r="2.7" fill="#0000dd"/>
<circle cx="648.9" cy="364.2" r="2.7" fill="#0000dd"/>
<circle cx="209.6" cy="409.9" r="2.7" fill="#cbf900"/>
<circle cx="327.2" cy="397.2" r="2.7" fill="#00aa87"/>
<circle cx="433.8" cy="233.8" r="2.7" fill="#f30000"/>
<circle cx="556.1" cy="343.6" r="2.7" fill="#f30000"/>
<circle cx="276.3" cy="191" r="2.7" fill="#f30000"/>
<circle cx="261" cy="243.3" r="2.7" fill="#7c008d"/>
<circle cx="116.5" cy="405.2" r="2.7" fill="#0000dd"/>
<circle cx="484.5" cy="319.8" r="2.7" fill="#f30000"/>
<circle cx="344.9" cy="308.3" r="2.7" fill="#0000dd"/>
<circle cx="447.8" cy="228.6" r="2.7" fill="#f30000"/>
<circle cx="530.2" cy="441.8" r="2.7" fill="#0000dd"/>
<circle cx="248.1" cy="297.9" r="2.7" fill="#7c008d"/>
<circle cx="159.3" cy="379.6" r="2.7" fill="#cbf900"/>
<circle cx="158.5" cy="258.5" r="2.7" fill="#cbf900"/>
<circle cx="350.9" cy="313.9" r="2.7" fill="#0000dd"/>
<circle cx="186.8" cy="177.7" r="2.7" fill="#7c008d"/>
<circle cx="397.5" cy="279" r="2.7" fill="#00aa87"/>
<circle cx="358.5" cy="259" r="2.7" fill="#ff9900"/>
<circle cx="255.1" cy="285.5" r="2.7" fill="#7c008d"/>
<circle cx="230.4" cy="246.9" r="2.7" fill="#7c008d"/>
<circle cx="593.8" cy="367.7" r="2.7" fill="#00aa87"/>
<circle cx="276" cy="430.2" r="2.7" fill="#cbf900"/>
<circle cx="576.2" cy="461.2" r="2.7" fill="#0000dd"/>
<circle cx="326.2" cy="292.6" r="2.7" fill="#f9d700"/>
<circle cx="180.5" cy="310.6" r="2.7" fill="#0082dd"/>
<circle cx="131.8" cy="377" r="2.7" fill="#0000dd"/>
<circle cx="451.5" cy="235.2" r="2.7" fill="#0000dd"/>
<circle cx="351.1" cy="452.3" r="2.7" fill="#f30000"/>
<circle cx="334.4" cy="465.2" r="2.7" fill="#0082dd"/>
<circle cx="211.7" cy="162.4" r="2.7" fill="#7c008d"/>
<circle cx="614" cy="485.4" r="2.7" fill="#0082dd"/>
<circle cx="106.8" cy="426.5" r="2.7" fill="#0000dd"/>
<circle cx="549.5" cy="505.1" r="2.7" fill="#00aa87"/>
<circle cx="504.9" cy="218.4" r="2.7" fill="#0000dd"/>
<circle cx="507" cy="218.4" r="2.7" fill="#0000dd"/>
<circle cx="518.2" cy="236.8" r="2.7" fill="#f30000"/>
<circle cx="514.3" cy="242" r="2.7" fill="#0000dd"/>
<circle cx="515.2" cy="242.7" r="2.7" fill="#0000dd"/>
<circle cx="529.8" cy="243.5" r="2.7" fill="#0082dd"/>
<circle cx="524.1" cy="245.2" r="2.7" fill="#f30000"/>
<circle cx="525.1" cy="246.4" r="2.7" fill="#f30000"/>
<circle cx="540.9" cy="245.6" r="2.7" fill="#00aa87"/>
<circle cx="531.9" cy="247.1" r="2.7" fill="#0082dd"/>
<circle cx="575" cy="209.5" r="2.7" fill="#f30000"/>
<circle cx="576.5" cy="212.2" r="2.7" fill="#f30000"/>
<circle cx="576" cy="219.2" r="2.7" fill="#f30000"/>
<circle cx="575.2" cy="219.4" r="2.7" fill="#f30000"/>
<circle cx="562" cy="222.3" r="2.7" fill="#f30000"/>
<circle cx="576" cy="222.8" r="2.7" fill="#f30000"/>
<circle cx="573.8" cy="225.4" r="2.7" fill="#f30000"/>
<circle cx="578.4" cy="226.1" r="2.7" fill="#f30000"/>
<circle cx="578.6" cy="225.4" r="2.7" fill="#f30000"/>
<circle cx="581.5" cy="220.9" r="2.7" fill="#f30000"/>
<circle cx="582.6" cy="220.5" r="2.7" fill="#f30000"/>
<circle cx="585.5" cy="221.3" r="2.7" fill="#f30000"/>
<circle cx="585.3" cy="223.3" r="2.7" fill="#f30000"/>
<circle cx="582" cy="225.4" r="2.7" fill="#f30000"/>
<circle cx="581.9" cy="223.9" r="2.7" fill="#f30000"/>
<circle cx="570.1" cy="222.9" r="2.7" fill="#f30000"/>
<circle cx="570.3" cy="221.4" r="2.7" fill="#f30000"/>
<circle cx="570.5" cy="224.3" r="2.7" fill="#f30000"/>
<circle cx="571.5" cy="226.5" r="2.7" fill="#f30000"/>
<circle cx="563.7" cy="231.5" r="2.7" fill="#f30000"/>
<circle cx="572.7" cy="235.5" r="2.7" fill="#f30000"/>
<circle cx="573.2" cy="237.1" r="2.7" fill="#f30000"/>
<circle cx="569.8" cy="243.7" r="2.7" fill="#f30000"/>
<circle cx="577.2" cy="243.8" r="2.7" fill="#f30000"/>
<circle cx="586.9" cy="246.2" r="2.7" fill="#f30000"/>
<circle cx="594" cy="235.5" r="2.7" fill="#f30000"/>
<circle cx="597.6" cy="235.1" r="2.7" fill="#f30000"/>
<circle cx="595.4" cy="234.7" r="2.7" fill="#f30000"/>
<circle cx="596.6" cy="238" r="2.7" fill="#f30000"/>
<circle cx="596.6" cy="236.2" r="2.7" fill="#f30000"/>
<circle cx="592.3" cy="239" r="2.7" fill="#f30000"/>
<circle cx="590.9" cy="237.8" r="2.7" fill="#f30000"/>
<circle cx="588.5" cy="239.4" r="2.7" fill="#f30000"/>
<circle cx="590.9" cy="240.8" r="2.7" fill="#f30000"/>
<circle cx="589" cy="242.2" r="2.7" fill="#f30000"/>
<circle cx="590.7" cy="243.9" r="2.7" fill="#f30000"/>
<circle cx="595.7" cy="241" r="2.7" fill="#f30000"/>
<circle cx="596.1" cy="242.8" r="2.7" fill="#f30000"/>
<circle cx="593.6" cy="244.4" r="2.7" fill="#f30000"/>
<circle cx="595.9" cy="245.6" r="2.7" fill="#f30000"/>
<circle cx="594.7" cy="246.4" r="2.7" fill="#f30000"/>
<circle cx="595" cy="247.8" r="2.7" fill="#f30000"/>
<circle cx="513.8" cy="249.9" r="2.7" fill="#00aa87"/>
<circle cx="518.5" cy="249.7" r="2.7" fill="#f30000"/>
<circle cx="526.5" cy="251.9" r="2.7" fill="#f30000"/>
<circle cx="550.4" cy="252.7" r="2.7" fill="#0000dd"/>
<circle cx="526.2" cy="256.6" r="2.7" fill="#f30000"/>
<circle cx="525.1" cy="259.7" r="2.7" fill="#f30000"/>
<circle cx="526.5" cy="259" r="2.7" fill="#f30000"/>
<circle cx="527.2" cy="260.9" r="2.7" fill="#f30000"/>
<circle cx="515.6" cy="262.1" r="2.7" fill="#f30000"/>
<circle cx="535.8" cy="261.9" r="2.7" fill="#0082dd"/>
<circle cx="546.1" cy="262.2" r="2.7" fill="#00aa87"/>
<circle cx="548.9" cy="258.8" r="2.7" fill="#d10000"/>
<circle cx="556.7" cy="259.7" r="2.7" fill="#f30000"/>
<circle cx="555.4" cy="259.2" r="2.7" fill="#f30000"/>
<circle cx="541.8" cy="268" r="2.7" fill="#f30000"/>
<circle cx="536.7" cy="270" r="2.7" fill="#f30000"/>
<circle cx="510.3" cy="278.9" r="2.7" fill="#f30000"/>
<circle cx="509.1" cy="278.1" r="2.7" fill="#f30000"/>
<circle cx="508.2" cy="277" r="2.7" fill="#f30000"/>
<circle cx="535.2" cy="279.2" r="2.7" fill="#0082dd"/>
<circle cx="535.2" cy="282.5" r="2.7" fill="#0082dd"/>
<circle cx="531.2" cy="285.4" r="2.7" fill="#0082dd"/>
<circle cx="533.3" cy="288" r="2.7" fill="#0082dd"/>
<circle cx="532.7" cy="285.9" r="2.7" fill="#0082dd"/>
<circle cx="513.6" cy="289.4" r="2.7" fill="#0082dd"/>
<circle cx="511.7" cy="289.1" r="2.7" fill="#0082dd"/>
<circle cx="517" cy="289.8" r="2.7" fill="#0082dd"/>
<circle cx="514.9" cy="289.8" r="2.7" fill="#0082dd"/>
<circle cx="529.1" cy="288.9" r="2.7" fill="#0082dd"/>
<circle cx="529.1" cy="291.1" r="2.7" fill="#0082dd"/>
<circle cx="528.3" cy="289.7" r="2.7" fill="#0082dd"/>
<circle cx="524.3" cy="292.9" r="2.7" fill="#0082dd"/>
<circle cx="522.9" cy="291.9" r="2.7" fill="#0082dd"/>
<circle cx="522.4" cy="292.8" r="2.7" fill="#0082dd"/>
<circle cx="595.5" cy="255.6" r="2.7" fill="#f30000"/>
<circle cx="567.8" cy="264.1" r="2.7" fill="#f30000"/>
<circle cx="571.7" cy="274.8" r="2.7" fill="#f30000"/>
<circle cx="573" cy="285.9" r="2.7" fill="#f30000"/>
<circle cx="591.2" cy="272.5" r="2.7" fill="#d10000"/>
<circle cx="589.6" cy="275.2" r="2.7" fill="#0000dd"/>
<circle cx="588.5" cy="277.3" r="2.7" fill="#0000dd"/>
<circle cx="586.5" cy="280.8" r="2.7" fill="#0000dd"/>
<circle cx="585.2" cy="282.1" r="2.7" fill="#0000dd"/>
<circle cx="609.4" cy="271.7" r="2.7" fill="#00aa87"/>
</g>
<clipPath id="cb"><rect x="805.5" y="21" width="353.7" height="365"/></clipPath>
<clipPath id="cc"><rect x="806.8" y="431.5" width="354.2" height="364.5"/></clipPath>
<g clip-path="url(#cb)" stroke="#fff" stroke-width="0.9">
<circle cx="806.9" cy="84.7" r="4.3" fill="#0000dd"/>
<circle cx="813.7" cy="84.7" r="4.3" fill="#0000dd"/>
<circle cx="850.8" cy="158.3" r="4.3" fill="#f30000"/>
<circle cx="837.7" cy="179.2" r="4.3" fill="#0000dd"/>
<circle cx="840.7" cy="181.9" r="4.3" fill="#0000dd"/>
<circle cx="889.2" cy="185.3" r="4.3" fill="#0082dd"/>
<circle cx="870.4" cy="192.2" r="4.3" fill="#f30000"/>
<circle cx="873.6" cy="196.8" r="4.3" fill="#f30000"/>
<circle cx="925.7" cy="193.8" r="4.3" fill="#00aa87"/>
<circle cx="896" cy="199.7" r="4.3" fill="#0082dd"/>
<circle cx="1038.3" cy="49.3" r="4.3" fill="#f30000"/>
<circle cx="1043.3" cy="60" r="4.3" fill="#f30000"/>
<circle cx="1041.7" cy="88.2" r="4.3" fill="#f30000"/>
<circle cx="1039" cy="88.8" r="4.3" fill="#f30000"/>
<circle cx="995.5" cy="100.3" r="4.3" fill="#f30000"/>
<circle cx="1041.7" cy="102.6" r="4.3" fill="#f30000"/>
<circle cx="1034.4" cy="112.9" r="4.3" fill="#f30000"/>
<circle cx="1049.7" cy="115.6" r="4.3" fill="#f30000"/>
<circle cx="1050.2" cy="112.9" r="4.3" fill="#f30000"/>
<circle cx="1060" cy="95" r="4.3" fill="#f30000"/>
<circle cx="1063.4" cy="93.2" r="4.3" fill="#f30000"/>
<circle cx="1073.3" cy="96.6" r="4.3" fill="#f30000"/>
<circle cx="1072.6" cy="104.6" r="4.3" fill="#f30000"/>
<circle cx="1061.6" cy="112.9" r="4.3" fill="#f30000"/>
<circle cx="1061.2" cy="106.9" r="4.3" fill="#f30000"/>
<circle cx="1022.3" cy="103" r="4.3" fill="#f30000"/>
<circle cx="1023" cy="96.8" r="4.3" fill="#f30000"/>
<circle cx="1023.4" cy="108.3" r="4.3" fill="#f30000"/>
<circle cx="1026.9" cy="117.2" r="4.3" fill="#f30000"/>
<circle cx="1001" cy="137.3" r="4.3" fill="#f30000"/>
<circle cx="1030.8" cy="153.3" r="4.3" fill="#f30000"/>
<circle cx="1032.6" cy="159.5" r="4.3" fill="#f30000"/>
<circle cx="1021.2" cy="186" r="4.3" fill="#f30000"/>
<circle cx="1045.6" cy="186.5" r="4.3" fill="#f30000"/>
<circle cx="1077.6" cy="196.1" r="4.3" fill="#f30000"/>
<circle cx="1101.2" cy="153.3" r="4.3" fill="#f30000"/>
<circle cx="1113.1" cy="151.7" r="4.3" fill="#f30000"/>
<circle cx="1105.7" cy="149.9" r="4.3" fill="#f30000"/>
<circle cx="1109.9" cy="163.1" r="4.3" fill="#f30000"/>
<circle cx="1109.9" cy="156.1" r="4.3" fill="#f30000"/>
<circle cx="1095.5" cy="167" r="4.3" fill="#f30000"/>
<circle cx="1090.9" cy="162.5" r="4.3" fill="#f30000"/>
<circle cx="1082.9" cy="168.6" r="4.3" fill="#f30000"/>
<circle cx="1090.9" cy="174.4" r="4.3" fill="#f30000"/>
<circle cx="1084.7" cy="180.1" r="4.3" fill="#f30000"/>
<circle cx="1090.2" cy="186.9" r="4.3" fill="#f30000"/>
<circle cx="1106.9" cy="175" r="4.3" fill="#f30000"/>
<circle cx="1108" cy="182.4" r="4.3" fill="#f30000"/>
<circle cx="1100" cy="188.8" r="4.3" fill="#f30000"/>
<circle cx="1107.6" cy="193.8" r="4.3" fill="#f30000"/>
<circle cx="1103.5" cy="196.8" r="4.3" fill="#f30000"/>
<circle cx="1104.6" cy="202.5" r="4.3" fill="#f30000"/>
<circle cx="836.1" cy="210.7" r="4.3" fill="#00aa87"/>
<circle cx="851.9" cy="209.8" r="4.3" fill="#f30000"/>
<circle cx="878.2" cy="219" r="4.3" fill="#f30000"/>
<circle cx="957.3" cy="222.2" r="4.3" fill="#0000dd"/>
<circle cx="877" cy="237.7" r="4.3" fill="#f30000"/>
<circle cx="873.6" cy="249.8" r="4.3" fill="#f30000"/>
<circle cx="878.2" cy="247.3" r="4.3" fill="#f30000"/>
<circle cx="880.5" cy="254.9" r="4.3" fill="#f30000"/>
<circle cx="842.3" cy="259.4" r="4.3" fill="#f30000"/>
<circle cx="908.8" cy="258.8" r="4.3" fill="#0082dd"/>
<circle cx="942.9" cy="259.9" r="4.3" fill="#00aa87"/>
<circle cx="952" cy="246.4" r="4.3" fill="#d10000"/>
<circle cx="977.9" cy="249.8" r="4.3" fill="#f30000"/>
<circle cx="973.8" cy="248" r="4.3" fill="#f30000"/>
<circle cx="928.7" cy="283" r="4.3" fill="#f30000"/>
<circle cx="912" cy="291" r="4.3" fill="#f30000"/>
<circle cx="824.7" cy="326.9" r="4.3" fill="#f30000"/>
<circle cx="820.6" cy="323.5" r="4.3" fill="#f30000"/>
<circle cx="817.8" cy="319.3" r="4.3" fill="#f30000"/>
<circle cx="907" cy="328" r="4.3" fill="#0082dd"/>
<circle cx="907" cy="341.3" r="4.3" fill="#0082dd"/>
<circle cx="893.7" cy="352.7" r="4.3" fill="#0082dd"/>
<circle cx="900.6" cy="363" r="4.3" fill="#0082dd"/>
<circle cx="898.8" cy="354.8" r="4.3" fill="#0082dd"/>
<circle cx="835.4" cy="368.7" r="4.3" fill="#0082dd"/>
<circle cx="829.3" cy="367.4" r="4.3" fill="#0082dd"/>
<circle cx="846.9" cy="370.3" r="4.3" fill="#0082dd"/>
<circle cx="840" cy="370.3" r="4.3" fill="#0082dd"/>
<circle cx="886.9" cy="366.9" r="4.3" fill="#0082dd"/>
<circle cx="886.9" cy="375.6" r="4.3" fill="#0082dd"/>
<circle cx="884.1" cy="369.9" r="4.3" fill="#0082dd"/>
<circle cx="870.9" cy="382.9" r="4.3" fill="#0082dd"/>
<circle cx="866.3" cy="378.8" r="4.3" fill="#0082dd"/>
<circle cx="864.7" cy="382.2" r="4.3" fill="#0082dd"/>
<circle cx="1106.2" cy="233.6" r="4.3" fill="#f30000"/>
<circle cx="1014.8" cy="267.4" r="4.3" fill="#f30000"/>
<circle cx="1027.6" cy="310.4" r="4.3" fill="#f30000"/>
<circle cx="1031.7" cy="354.8" r="4.3" fill="#f30000"/>
<circle cx="1092" cy="301.1" r="4.3" fill="#d10000"/>
<circle cx="1086.5" cy="312" r="4.3" fill="#0000dd"/>
<circle cx="1082.9" cy="320.5" r="4.3" fill="#0000dd"/>
<circle cx="1076.5" cy="334.2" r="4.3" fill="#0000dd"/>
<circle cx="1072.1" cy="339.5" r="4.3" fill="#0000dd"/>
<circle cx="1151.9" cy="297.9" r="4.3" fill="#00aa87"/>
</g>
<g clip-path="url(#cc)" stroke="#fff" stroke-width="0.9">
<circle cx="808.2" cy="495" r="4.3" fill="#000000"/>
<circle cx="815" cy="495" r="4.3" fill="#000000"/>
<circle cx="852.1" cy="568.4" r="4.3" fill="#000000"/>
<circle cx="839" cy="589.1" r="4.3" fill="#a1ff00"/>
<circle cx="842" cy="591.8" r="4.3" fill="#a1ff00"/>
<circle cx="890.5" cy="595.2" r="4.3" fill="#008fdd"/>
<circle cx="871.7" cy="602.1" r="4.3" fill="#001cdd"/>
<circle cx="874.9" cy="606.6" r="4.3" fill="#001cdd"/>
<circle cx="927.1" cy="603.7" r="4.3" fill="#7e008e"/>
<circle cx="897.4" cy="609.6" r="4.3" fill="#008fdd"/>
<circle cx="1039.7" cy="459.7" r="4.3" fill="#00aaa5"/>
<circle cx="1044.7" cy="470.4" r="4.3" fill="#00aaa5"/>
<circle cx="1043.1" cy="498.4" r="4.3" fill="#00aaa5"/>
<circle cx="1040.4" cy="499.1" r="4.3" fill="#00aaa5"/>
<circle cx="996.9" cy="510.5" r="4.3" fill="#00aaa5"/>
<circle cx="1043.1" cy="512.8" r="4.3" fill="#00aaa5"/>
<circle cx="1035.8" cy="523" r="4.3" fill="#00aaa5"/>
<circle cx="1051.1" cy="525.8" r="4.3" fill="#00aaa5"/>
<circle cx="1051.6" cy="523" r="4.3" fill="#00aaa5"/>
<circle cx="1061.4" cy="505.3" r="4.3" fill="#00aaa5"/>
<circle cx="1064.9" cy="503.4" r="4.3" fill="#00aaa5"/>
<circle cx="1074.7" cy="506.9" r="4.3" fill="#00aaa5"/>
<circle cx="1074" cy="514.8" r="4.3" fill="#00aaa5"/>
<circle cx="1063" cy="523" r="4.3" fill="#00aaa5"/>
<circle cx="1062.6" cy="517.1" r="4.3" fill="#00aaa5"/>
<circle cx="1023.7" cy="513.2" r="4.3" fill="#f90000"/>
<circle cx="1024.4" cy="507.1" r="4.3" fill="#f90000"/>
<circle cx="1024.8" cy="518.5" r="4.3" fill="#f90000"/>
<circle cx="1028.3" cy="527.4" r="4.3" fill="#f90000"/>
<circle cx="1002.4" cy="547.4" r="4.3" fill="#f90000"/>
<circle cx="1032.1" cy="563.4" r="4.3" fill="#00bc00"/>
<circle cx="1034" cy="569.5" r="4.3" fill="#00bc00"/>
<circle cx="1022.5" cy="595.9" r="4.3" fill="#00bc00"/>
<circle cx="1047" cy="596.4" r="4.3" fill="#00bc00"/>
<circle cx="1079" cy="606" r="4.3" fill="#00bc00"/>
<circle cx="1102.6" cy="563.4" r="4.3" fill="#00bc00"/>
<circle cx="1114.5" cy="561.8" r="4.3" fill="#00bc00"/>
<circle cx="1107.2" cy="559.9" r="4.3" fill="#00bc00"/>
<circle cx="1111.3" cy="573.1" r="4.3" fill="#00bc00"/>
<circle cx="1111.3" cy="566.1" r="4.3" fill="#00bc00"/>
<circle cx="1096.9" cy="577" r="4.3" fill="#00bc00"/>
<circle cx="1092.3" cy="572.5" r="4.3" fill="#00bc00"/>
<circle cx="1084.3" cy="578.6" r="4.3" fill="#00bc00"/>
<circle cx="1092.3" cy="584.3" r="4.3" fill="#00bc00"/>
<circle cx="1086.1" cy="590" r="4.3" fill="#00bc00"/>
<circle cx="1091.6" cy="596.8" r="4.3" fill="#00bc00"/>
<circle cx="1108.3" cy="585" r="4.3" fill="#00bc00"/>
<circle cx="1109.5" cy="592.3" r="4.3" fill="#00bc00"/>
<circle cx="1101.5" cy="598.7" r="4.3" fill="#00bc00"/>
<circle cx="1109" cy="603.7" r="4.3" fill="#00bc00"/>
<circle cx="1104.9" cy="606.6" r="4.3" fill="#00bc00"/>
<circle cx="1106" cy="612.3" r="4.3" fill="#00bc00"/>
<circle cx="837.4" cy="620.6" r="4.3" fill="#7e008e"/>
<circle cx="853.2" cy="619.7" r="4.3" fill="#00aaa5"/>
<circle cx="879.5" cy="628.8" r="4.3" fill="#001cdd"/>
<circle cx="958.7" cy="632" r="4.3" fill="#a1ff00"/>
<circle cx="878.4" cy="647.5" r="4.3" fill="#001cdd"/>
<circle cx="874.9" cy="659.5" r="4.3" fill="#001cdd"/>
<circle cx="879.5" cy="657" r="4.3" fill="#001cdd"/>
<circle cx="881.8" cy="664.5" r="4.3" fill="#001cdd"/>
<circle cx="843.6" cy="669.1" r="4.3" fill="#00aaa5"/>
<circle cx="910.2" cy="668.4" r="4.3" fill="#008fdd"/>
<circle cx="944.2" cy="669.6" r="4.3" fill="#7e008e"/>
<circle cx="953.4" cy="656.1" r="4.3" fill="#000000"/>
<circle cx="979.2" cy="659.5" r="4.3" fill="#00a03d"/>
<circle cx="975.1" cy="657.7" r="4.3" fill="#00a03d"/>
<circle cx="930.1" cy="692.6" r="4.3" fill="#1700a7"/>
<circle cx="913.4" cy="700.5" r="4.3" fill="#1700a7"/>
<circle cx="826" cy="736.3" r="4.3" fill="#00bc00"/>
<circle cx="821.9" cy="732.9" r="4.3" fill="#00bc00"/>
<circle cx="819.1" cy="728.8" r="4.3" fill="#00bc00"/>
<circle cx="908.3" cy="737.4" r="4.3" fill="#008fdd"/>
<circle cx="908.3" cy="750.7" r="4.3" fill="#008fdd"/>
<circle cx="895.1" cy="762.1" r="4.3" fill="#008fdd"/>
<circle cx="901.9" cy="772.3" r="4.3" fill="#008fdd"/>
<circle cx="900.1" cy="764.1" r="4.3" fill="#008fdd"/>
<circle cx="836.7" cy="778" r="4.3" fill="#008fdd"/>
<circle cx="830.6" cy="776.6" r="4.3" fill="#008fdd"/>
<circle cx="848.2" cy="779.6" r="4.3" fill="#008fdd"/>
<circle cx="841.3" cy="779.6" r="4.3" fill="#008fdd"/>
<circle cx="888.2" cy="776.2" r="4.3" fill="#008fdd"/>
<circle cx="888.2" cy="784.8" r="4.3" fill="#008fdd"/>
<circle cx="885.5" cy="779.1" r="4.3" fill="#008fdd"/>
<circle cx="872.2" cy="792.1" r="4.3" fill="#008fdd"/>
<circle cx="867.6" cy="788" r="4.3" fill="#008fdd"/>
<circle cx="866" cy="791.4" r="4.3" fill="#008fdd"/>
<circle cx="1107.6" cy="643.4" r="4.3" fill="#00bc00"/>
<circle cx="1016.1" cy="677.1" r="4.3" fill="#00a03d"/>
<circle cx="1028.9" cy="719.9" r="4.3" fill="#ffa500"/>
<circle cx="1033.1" cy="764.1" r="4.3" fill="#00a03d"/>
<circle cx="1093.4" cy="710.6" r="4.3" fill="#000000"/>
<circle cx="1088" cy="721.5" r="4.3" fill="#f2e400"/>
<circle cx="1084.3" cy="729.9" r="4.3" fill="#f2e400"/>
<circle cx="1077.9" cy="743.6" r="4.3" fill="#f2e400"/>
<circle cx="1073.5" cy="748.8" r="4.3" fill="#f2e400"/>
<circle cx="1153.4" cy="707.4" r="4.3" fill="#d30000"/>
</g>
<rect x="45.8" y="101" width="675.5" height="686" fill="none" stroke="#1e1e1e" stroke-width="2"/>
<rect x="805.5" y="21" width="353.7" height="365" fill="none" stroke="#1e1e1e" stroke-width="2"/>
<rect x="806.8" y="431.5" width="354.2" height="364.5" fill="none" stroke="#1e1e1e" stroke-width="2"/>
<text x="40.5" y="146.6" font-size="14" text-anchor="end" font-weight="normal" fill="#262626" >40</text>
<text x="40.5" y="268.6" font-size="14" text-anchor="end" font-weight="normal" fill="#262626" >20</text>
<text x="40.5" y="390.6" font-size="14" text-anchor="end" font-weight="normal" fill="#262626" >0</text>
<text x="40.5" y="512.6" font-size="14" text-anchor="end" font-weight="normal" fill="#262626" >−20</text>
<text x="40.5" y="634.6" font-size="14" text-anchor="end" font-weight="normal" fill="#262626" >−40</text>
<text x="40.5" y="756.5" font-size="14" text-anchor="end" font-weight="normal" fill="#262626" >−60</text>
<text x="76.1" y="803.2" font-size="14" text-anchor="middle" font-weight="normal" fill="#262626" >−40</text>
<text x="218.9" y="803.2" font-size="14" text-anchor="middle" font-weight="normal" fill="#262626" >−20</text>
<text x="361.7" y="803.2" font-size="14" text-anchor="middle" font-weight="normal" fill="#262626" >0</text>
<text x="504.5" y="803.2" font-size="14" text-anchor="middle" font-weight="normal" fill="#262626" >20</text>
<text x="647.3" y="803.2" font-size="14" text-anchor="middle" font-weight="normal" fill="#262626" >40</text>
<text x="801.5" y="367.6" font-size="14" text-anchor="end" font-weight="normal" fill="#262626" >16</text>
<text x="801.5" y="318.8" font-size="14" text-anchor="end" font-weight="normal" fill="#262626" >18</text>
<text x="801.5" y="270.1" font-size="14" text-anchor="end" font-weight="normal" fill="#262626" >20</text>
<text x="801.5" y="221.3" font-size="14" text-anchor="end" font-weight="normal" fill="#262626" >22</text>
<text x="801.5" y="172.5" font-size="14" text-anchor="end" font-weight="normal" fill="#262626" >24</text>
<text x="801.5" y="123.7" font-size="14" text-anchor="end" font-weight="normal" fill="#262626" >26</text>
<text x="801.5" y="75" font-size="14" text-anchor="end" font-weight="normal" fill="#262626" >28</text>
<text x="801.5" y="26.2" font-size="14" text-anchor="end" font-weight="normal" fill="#262626" >30</text>
<text x="805.5" y="402.5" font-size="14" text-anchor="middle" font-weight="normal" fill="#262626" >20</text>
<text x="852.7" y="402.5" font-size="14" text-anchor="middle" font-weight="normal" fill="#262626" >22</text>
<text x="899.9" y="402.5" font-size="14" text-anchor="middle" font-weight="normal" fill="#262626" >24</text>
<text x="947" y="402.5" font-size="14" text-anchor="middle" font-weight="normal" fill="#262626" >26</text>
<text x="994.2" y="402.5" font-size="14" text-anchor="middle" font-weight="normal" fill="#262626" >28</text>
<text x="1041.4" y="402.5" font-size="14" text-anchor="middle" font-weight="normal" fill="#262626" >30</text>
<text x="1088.6" y="402.5" font-size="14" text-anchor="middle" font-weight="normal" fill="#262626" >32</text>
<text x="1135.8" y="402.5" font-size="14" text-anchor="middle" font-weight="normal" fill="#262626" >34</text>
<text x="802.5" y="776.9" font-size="14" text-anchor="end" font-weight="normal" fill="#262626" >16</text>
<text x="802.5" y="728.3" font-size="14" text-anchor="end" font-weight="normal" fill="#262626" >18</text>
<text x="802.5" y="679.7" font-size="14" text-anchor="end" font-weight="normal" fill="#262626" >20</text>
<text x="802.5" y="631.1" font-size="14" text-anchor="end" font-weight="normal" fill="#262626" >22</text>
<text x="802.5" y="582.5" font-size="14" text-anchor="end" font-weight="normal" fill="#262626" >24</text>
<text x="802.5" y="533.9" font-size="14" text-anchor="end" font-weight="normal" fill="#262626" >26</text>
<text x="802.5" y="485.3" font-size="14" text-anchor="end" font-weight="normal" fill="#262626" >28</text>
<text x="802.5" y="436.7" font-size="14" text-anchor="end" font-weight="normal" fill="#262626" >30</text>
<text x="806.8" y="812" font-size="14" text-anchor="middle" font-weight="normal" fill="#262626" >20</text>
<text x="854" y="812" font-size="14" text-anchor="middle" font-weight="normal" fill="#262626" >22</text>
<text x="901.2" y="812" font-size="14" text-anchor="middle" font-weight="normal" fill="#262626" >24</text>
<text x="948.4" y="812" font-size="14" text-anchor="middle" font-weight="normal" fill="#262626" >26</text>
<text x="995.6" y="812" font-size="14" text-anchor="middle" font-weight="normal" fill="#262626" >28</text>
<text x="1042.8" y="812" font-size="14" text-anchor="middle" font-weight="normal" fill="#262626" >30</text>
<text x="1090" y="812" font-size="14" text-anchor="middle" font-weight="normal" fill="#262626" >32</text>
<text x="1137.2" y="812" font-size="14" text-anchor="middle" font-weight="normal" fill="#262626" >34</text>
<rect x="505.5" y="201" width="108" height="97.5" fill="none" stroke="#000" stroke-width="3"/>
<line x1="613.5" y1="201" x2="805.5" y2="21" stroke="#000" stroke-width="3"/>
<line x1="613.5" y1="298.5" x2="805.5" y2="386" stroke="#000" stroke-width="3"/>
<text x="23" y="31" font-size="28.5" text-anchor="start" font-weight="bold" fill="#000" stroke="#000" stroke-width="1.1">A</text>
<text x="742.5" y="31.5" font-size="26.5" text-anchor="start" font-weight="bold" fill="#000" stroke="#000" stroke-width="1.1">B</text>
<text x="741.5" y="445.5" font-size="27.5" text-anchor="start" font-weight="bold" fill="#000" stroke="#000" stroke-width="1.1">C</text>
<text x="262.4" y="77.1" font-size="21.5" fill="#000" textLength="278.5" lengthAdjust="spacingAndGlyphs"><tspan font-weight="bold" stroke="#000" stroke-width="0.5">superclasses</tspan> (Classyfire)</text>
<text transform="translate(1195,337.5) rotate(-90)" font-size="23" fill="#000" textLength="285.5" lengthAdjust="spacingAndGlyphs"><tspan font-weight="bold" stroke="#000" stroke-width="0.6">superclasses</tspan> (Classyfire)</text>
<text transform="translate(1195,739.5) rotate(-90)" font-size="23" fill="#000" textLength="256.5" lengthAdjust="spacingAndGlyphs"><tspan font-weight="bold" stroke="#000" stroke-width="0.6">subclasses</tspan> (Classyfire)</text>
<rect x="490.5" y="569" width="226.2" height="211" rx="2" fill="#fff" fill-opacity="0.85" stroke="#d0d0d0" stroke-width="1"/>
<circle cx="504.1" cy="576.6" r="5.3" fill="#cccccc"/>
<text x="521.5" y="579.9" font-size="9.75" fill="#333">0, unknown</text>
<circle cx="504.1" cy="590.5" r="5.3" fill="#d10000"/>
<text x="521.5" y="593.8" font-size="9.75" fill="#333">Alkaloids and derivatives</text>
<circle cx="504.1" cy="604.5" r="5.3" fill="#f30000"/>
<text x="521.5" y="607.8" font-size="9.75" fill="#333">Benzenoids</text>
<circle cx="504.1" cy="618.4" r="5.3" fill="#ff9900"/>
<text x="521.5" y="621.7" font-size="9.75" fill="#333">Hydrocarbon derivatives</text>
<circle cx="504.1" cy="632.4" r="5.3" fill="#f9d700"/>
<text x="521.5" y="635.7" font-size="9.75" fill="#333">Lignans, neolignans and related compounds</text>
<circle cx="504.1" cy="646.3" r="5.3" fill="#cbf900"/>
<text x="521.5" y="649.6" font-size="9.75" fill="#333">Lipids and lipid-like molecules</text>
<circle cx="504.1" cy="660.2" r="5.3" fill="#00ff00"/>
<text x="521.5" y="663.5" font-size="9.75" fill="#333">Nucleosides, nucleotides, and analogues</text>
<circle cx="504.1" cy="674.2" r="5.3" fill="#00d100"/>
<text x="521.5" y="677.5" font-size="9.75" fill="#333">Organic 1,3-dipolar compounds</text>
<circle cx="504.1" cy="688.1" r="5.3" fill="#00a400"/>
<text x="521.5" y="691.4" font-size="9.75" fill="#333">Organic Polymers</text>
<circle cx="504.1" cy="702.1" r="5.3" fill="#00aa87"/>
<text x="521.5" y="705.4" font-size="9.75" fill="#333">Organic acids and derivatives</text>
<circle cx="504.1" cy="716" r="5.3" fill="#00a4bb"/>
<text x="521.5" y="719.3" font-size="9.75" fill="#333">Organic nitrogen compounds</text>
<circle cx="504.1" cy="729.9" r="5.3" fill="#0082dd"/>
<text x="521.5" y="733.2" font-size="9.75" fill="#333">Organic oxygen compounds</text>
<circle cx="504.1" cy="743.9" r="5.3" fill="#0000dd"/>
<text x="521.5" y="747.2" font-size="9.75" fill="#333">Organoheterocyclic compounds</text>
<circle cx="504.1" cy="757.8" r="5.3" fill="#2d00a4"/>
<text x="521.5" y="761.1" font-size="9.75" fill="#333">Organosulfur compounds</text>
<circle cx="504.1" cy="771.8" r="5.3" fill="#7c008d"/>
<text x="521.5" y="775.1" font-size="9.75" fill="#333">Phenylpropanoids and polyketides</text>
<rect x="809.9" y="433.9" width="151.4" height="148" rx="2" fill="#fff" fill-opacity="0.85" stroke="#d0d0d0" stroke-width="1"/>
<circle cx="820.9" cy="440.3" r="3.7" fill="#000000"/>
<text x="833.8" y="443.2" font-size="7.3" fill="#333">0, unknown</text>
<circle cx="820.9" cy="450.7" r="3.7" fill="#7e008e"/>
<text x="833.8" y="453.6" font-size="7.3" fill="#333">Amino acids, peptides, and analogues</text>
<circle cx="820.9" cy="461.1" r="3.7" fill="#1700a7"/>
<text x="833.8" y="464" font-size="7.3" fill="#333">Anilides</text>
<circle cx="820.9" cy="471.4" r="3.7" fill="#001cdd"/>
<text x="833.8" y="474.3" font-size="7.3" fill="#333">Benzophenones</text>
<circle cx="820.9" cy="481.8" r="3.7" fill="#008fdd"/>
<text x="833.8" y="484.7" font-size="7.3" fill="#333">Carbonyl compounds</text>
<circle cx="820.9" cy="492.2" r="3.7" fill="#00aaa5"/>
<text x="833.8" y="495.1" font-size="7.3" fill="#333">Halobenzenes</text>
<circle cx="820.9" cy="502.6" r="3.7" fill="#00a03d"/>
<text x="833.8" y="505.5" font-size="7.3" fill="#333">N-phenylureas</text>
<circle cx="820.9" cy="513" r="3.7" fill="#00bc00"/>
<text x="833.8" y="515.9" font-size="7.3" fill="#333">Phenylbutylamines</text>
<circle cx="820.9" cy="523.3" r="3.7" fill="#00ec00"/>
<text x="833.8" y="526.2" font-size="7.3" fill="#333">Phosphate esters</text>
<circle cx="820.9" cy="533.7" r="3.7" fill="#a1ff00"/>
<text x="833.8" y="536.6" font-size="7.3" fill="#333">Pyrazoles</text>
<circle cx="820.9" cy="544.1" r="3.7" fill="#f2e400"/>
<text x="833.8" y="547" font-size="7.3" fill="#333">Pyrimidines and pyrimidine derivatives</text>
<circle cx="820.9" cy="554.5" r="3.7" fill="#ffa500"/>
<text x="833.8" y="557.4" font-size="7.3" fill="#333">Sulfanilides</text>
<circle cx="820.9" cy="564.9" r="3.7" fill="#f90000"/>
<text x="833.8" y="567.8" font-size="7.3" fill="#333">Tametralines</text>
<circle cx="820.9" cy="575.2" r="3.7" fill="#d30000"/>
<text x="833.8" y="578.1" font-size="7.3" fill="#333">Terpene glycosides</text>
</svg></body></html>
